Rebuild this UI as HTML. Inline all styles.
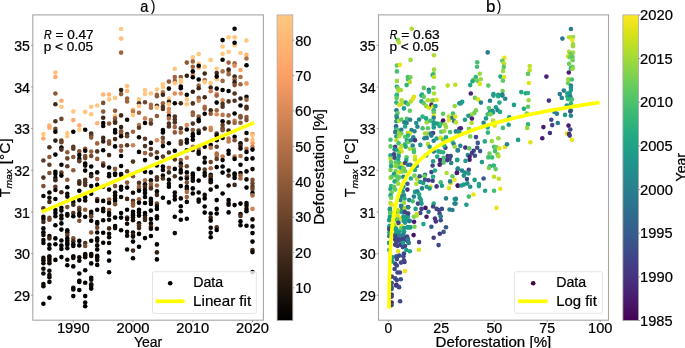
<!DOCTYPE html><html><head><meta charset="utf-8"><style>html,body{margin:0;padding:0;background:#fff;overflow:hidden}svg{display:block;will-change:transform}text{font-family:"Liberation Sans",sans-serif;fill:#000;stroke:#000;stroke-width:0.22px}</style></head><body>
<svg width="685" height="348" viewBox="0 0 685 348">
<rect width="685" height="348" fill="#fff"/>
<defs>
<clipPath id="cl"><rect x="32.8" y="14.9" width="230.6" height="305.3"/></clipPath>
<clipPath id="cr"><rect x="378.5" y="14.9" width="230.0" height="305.3"/></clipPath>
<linearGradient id="gc" x1="0" y1="0" x2="0" y2="1"><stop offset="0.000" stop-color="#ffc77f"/><stop offset="0.050" stop-color="#ffbe79"/><stop offset="0.100" stop-color="#ffb472"/><stop offset="0.150" stop-color="#ffaa6c"/><stop offset="0.200" stop-color="#fc9f65"/><stop offset="0.250" stop-color="#ed9660"/><stop offset="0.300" stop-color="#dd8c59"/><stop offset="0.350" stop-color="#cd8253"/><stop offset="0.400" stop-color="#bd784c"/><stop offset="0.450" stop-color="#ad6d46"/><stop offset="0.500" stop-color="#9e6440"/><stop offset="0.550" stop-color="#8e5a39"/><stop offset="0.600" stop-color="#7e5033"/><stop offset="0.650" stop-color="#6e462c"/><stop offset="0.700" stop-color="#5e3b26"/><stop offset="0.750" stop-color="#4f3220"/><stop offset="0.800" stop-color="#3f2819"/><stop offset="0.850" stop-color="#2f1e13"/><stop offset="0.900" stop-color="#1f140c"/><stop offset="0.950" stop-color="#0f0906"/><stop offset="1.000" stop-color="#000000"/></linearGradient>
<linearGradient id="gv" x1="0" y1="0" x2="0" y2="1"><stop offset="0.0000" stop-color="#fde725"/><stop offset="0.0312" stop-color="#ece51b"/><stop offset="0.0625" stop-color="#d8e219"/><stop offset="0.0938" stop-color="#c2df23"/><stop offset="0.1250" stop-color="#addc30"/><stop offset="0.1562" stop-color="#98d83e"/><stop offset="0.1875" stop-color="#84d44b"/><stop offset="0.2188" stop-color="#70cf57"/><stop offset="0.2500" stop-color="#5ec962"/><stop offset="0.2812" stop-color="#4ec36b"/><stop offset="0.3125" stop-color="#3fbc73"/><stop offset="0.3438" stop-color="#32b67a"/><stop offset="0.3750" stop-color="#28ae80"/><stop offset="0.4062" stop-color="#22a785"/><stop offset="0.4375" stop-color="#1fa088"/><stop offset="0.4688" stop-color="#1f988b"/><stop offset="0.5000" stop-color="#21918c"/><stop offset="0.5312" stop-color="#23898e"/><stop offset="0.5625" stop-color="#26828e"/><stop offset="0.5938" stop-color="#297a8e"/><stop offset="0.6250" stop-color="#2c728e"/><stop offset="0.6562" stop-color="#2f6b8e"/><stop offset="0.6875" stop-color="#33638d"/><stop offset="0.7188" stop-color="#375b8d"/><stop offset="0.7500" stop-color="#3b528b"/><stop offset="0.7812" stop-color="#3e4989"/><stop offset="0.8125" stop-color="#424086"/><stop offset="0.8438" stop-color="#453781"/><stop offset="0.8750" stop-color="#472d7b"/><stop offset="0.9062" stop-color="#482374"/><stop offset="0.9375" stop-color="#48186a"/><stop offset="0.9688" stop-color="#470d60"/><stop offset="1.0000" stop-color="#440154"/></linearGradient>
</defs>
<g clip-path="url(#cl)">
<circle cx="121.1" cy="29.0" r="2.3" fill="#ffc77f"/>
<circle cx="121.1" cy="38.6" r="2.3" fill="#ffbe79"/>
<circle cx="121.1" cy="52.6" r="2.3" fill="#9e6440"/>
<circle cx="234.6" cy="28.8" r="2.3" fill="#0f0906"/>
<circle cx="228.6" cy="37.2" r="2.3" fill="#ffc77f"/>
<circle cx="234.6" cy="37.4" r="2.3" fill="#ffc77f"/>
<circle cx="222.6" cy="40.1" r="2.3" fill="#000000"/>
<circle cx="246.5" cy="40.5" r="2.3" fill="#ffc77f"/>
<circle cx="234.6" cy="45.1" r="2.3" fill="#ffc77f"/>
<circle cx="234.6" cy="42.8" r="2.3" fill="#000000"/>
<circle cx="222.6" cy="46.5" r="2.3" fill="#ffc77f"/>
<circle cx="228.6" cy="51.8" r="2.3" fill="#ffc77f"/>
<circle cx="240.5" cy="53.0" r="2.3" fill="#ffc77f"/>
<circle cx="222.6" cy="53.9" r="2.3" fill="#ffc77f"/>
<circle cx="198.7" cy="54.1" r="2.3" fill="#ffc77f"/>
<circle cx="246.5" cy="54.7" r="2.3" fill="#ffb472"/>
<circle cx="55.4" cy="72.5" r="2.3" fill="#ffbe79"/>
<circle cx="55.4" cy="77.0" r="2.3" fill="#ffaa6c"/>
<circle cx="55.4" cy="93.5" r="2.3" fill="#8e5a39"/>
<circle cx="103.2" cy="94.5" r="2.3" fill="#ffb472"/>
<circle cx="109.1" cy="94.5" r="2.3" fill="#ffb472"/>
<circle cx="121.1" cy="90.0" r="2.3" fill="#2f1e13"/>
<circle cx="121.1" cy="94.1" r="2.3" fill="#8e5a39"/>
<circle cx="127.1" cy="86.0" r="2.3" fill="#ffbe79"/>
<circle cx="127.1" cy="91.0" r="2.3" fill="#ffb472"/>
<circle cx="145.0" cy="90.0" r="2.3" fill="#ffc77f"/>
<circle cx="145.0" cy="94.1" r="2.3" fill="#ffc77f"/>
<circle cx="150.9" cy="93.5" r="2.3" fill="#ffc77f"/>
<circle cx="156.9" cy="89.5" r="2.3" fill="#ffc77f"/>
<circle cx="156.9" cy="94.7" r="2.3" fill="#9e6440"/>
<circle cx="162.9" cy="84.2" r="2.3" fill="#ffc77f"/>
<circle cx="162.9" cy="87.1" r="2.3" fill="#ffc77f"/>
<circle cx="162.9" cy="92.4" r="2.3" fill="#bd784c"/>
<circle cx="162.9" cy="94.7" r="2.3" fill="#3f2819"/>
<circle cx="168.9" cy="81.6" r="2.3" fill="#8e5a39"/>
<circle cx="168.9" cy="88.6" r="2.3" fill="#0f0906"/>
<circle cx="174.8" cy="68.8" r="2.3" fill="#ffc77f"/>
<circle cx="174.8" cy="77.0" r="2.3" fill="#9e6440"/>
<circle cx="174.8" cy="80.9" r="2.3" fill="#9e6440"/>
<circle cx="174.8" cy="83.3" r="2.3" fill="#ffc77f"/>
<circle cx="174.8" cy="93.5" r="2.3" fill="#dd8c59"/>
<circle cx="180.8" cy="77.0" r="2.3" fill="#8e5a39"/>
<circle cx="180.8" cy="80.1" r="2.3" fill="#ffc77f"/>
<circle cx="180.8" cy="82.1" r="2.3" fill="#ffc77f"/>
<circle cx="180.8" cy="86.5" r="2.3" fill="#000000"/>
<circle cx="180.8" cy="88.3" r="2.3" fill="#000000"/>
<circle cx="180.8" cy="93.5" r="2.3" fill="#dd8c59"/>
<circle cx="186.8" cy="62.6" r="2.3" fill="#8e5a39"/>
<circle cx="186.8" cy="75.8" r="2.3" fill="#2f1e13"/>
<circle cx="186.8" cy="94.7" r="2.3" fill="#000000"/>
<circle cx="192.8" cy="57.2" r="2.3" fill="#ffc77f"/>
<circle cx="192.8" cy="61.4" r="2.3" fill="#9e6440"/>
<circle cx="192.8" cy="66.7" r="2.3" fill="#9e6440"/>
<circle cx="192.8" cy="74.6" r="2.3" fill="#fc9f65"/>
<circle cx="192.8" cy="71.4" r="2.3" fill="#000000"/>
<circle cx="192.8" cy="77.2" r="2.3" fill="#000000"/>
<circle cx="192.8" cy="91.8" r="2.3" fill="#2f1e13"/>
<circle cx="198.7" cy="63.5" r="2.3" fill="#ffc77f"/>
<circle cx="198.7" cy="67.5" r="2.3" fill="#fc9f65"/>
<circle cx="198.7" cy="65.7" r="2.3" fill="#000000"/>
<circle cx="198.7" cy="79.5" r="2.3" fill="#000000"/>
<circle cx="198.7" cy="85.6" r="2.3" fill="#9e6440"/>
<circle cx="198.7" cy="88.3" r="2.3" fill="#3f2819"/>
<circle cx="204.7" cy="66.7" r="2.3" fill="#ffc77f"/>
<circle cx="204.7" cy="73.5" r="2.3" fill="#3f2819"/>
<circle cx="204.7" cy="80.1" r="2.3" fill="#ad6d46"/>
<circle cx="204.7" cy="82.1" r="2.3" fill="#ffc77f"/>
<circle cx="210.7" cy="59.9" r="2.3" fill="#ffc77f"/>
<circle cx="210.7" cy="83.0" r="2.3" fill="#ffc77f"/>
<circle cx="210.7" cy="87.5" r="2.3" fill="#3f2819"/>
<circle cx="210.7" cy="91.2" r="2.3" fill="#cd8253"/>
<circle cx="216.7" cy="68.8" r="2.3" fill="#ffc77f"/>
<circle cx="216.7" cy="73.1" r="2.3" fill="#3f2819"/>
<circle cx="216.7" cy="79.3" r="2.3" fill="#ffc77f"/>
<circle cx="216.7" cy="76.6" r="2.3" fill="#070503"/>
<circle cx="216.7" cy="88.6" r="2.3" fill="#000000"/>
<circle cx="216.7" cy="94.1" r="2.3" fill="#ed9660"/>
<circle cx="222.6" cy="59.7" r="2.3" fill="#0f0906"/>
<circle cx="222.6" cy="71.4" r="2.3" fill="#ad6d46"/>
<circle cx="222.6" cy="80.9" r="2.3" fill="#9e6440"/>
<circle cx="222.6" cy="90.0" r="2.3" fill="#000000"/>
<circle cx="228.6" cy="62.6" r="2.3" fill="#9e6440"/>
<circle cx="228.6" cy="71.4" r="2.3" fill="#dd8c59"/>
<circle cx="228.6" cy="69.6" r="2.3" fill="#3f2819"/>
<circle cx="228.6" cy="74.3" r="2.3" fill="#9e6440"/>
<circle cx="228.6" cy="91.0" r="2.3" fill="#000000"/>
<circle cx="234.6" cy="63.4" r="2.3" fill="#9e6440"/>
<circle cx="234.6" cy="65.7" r="2.3" fill="#dd8c59"/>
<circle cx="234.6" cy="76.6" r="2.3" fill="#3f2819"/>
<circle cx="234.6" cy="79.5" r="2.3" fill="#8e5a39"/>
<circle cx="234.6" cy="82.4" r="2.3" fill="#2f1e13"/>
<circle cx="234.6" cy="85.1" r="2.3" fill="#7e5033"/>
<circle cx="234.6" cy="93.5" r="2.3" fill="#4f3220"/>
<circle cx="240.5" cy="70.0" r="2.3" fill="#fc9f65"/>
<circle cx="240.5" cy="77.0" r="2.3" fill="#ad6d46"/>
<circle cx="240.5" cy="84.2" r="2.3" fill="#9e6440"/>
<circle cx="246.5" cy="58.5" r="2.3" fill="#ad6d46"/>
<circle cx="246.5" cy="65.3" r="2.3" fill="#000000"/>
<circle cx="246.5" cy="83.4" r="2.3" fill="#ed9660"/>
<circle cx="43.4" cy="134.1" r="2.3" fill="#ffc77f"/>
<circle cx="49.4" cy="125.6" r="2.3" fill="#ffb472"/>
<circle cx="49.4" cy="127.7" r="2.3" fill="#ffaa6c"/>
<circle cx="55.4" cy="104.3" r="2.3" fill="#3f2819"/>
<circle cx="55.4" cy="121.3" r="2.3" fill="#4f3220"/>
<circle cx="55.4" cy="128.9" r="2.3" fill="#6e462c"/>
<circle cx="55.4" cy="131.8" r="2.3" fill="#000000"/>
<circle cx="61.4" cy="100.8" r="2.3" fill="#ffaa6c"/>
<circle cx="61.4" cy="106.7" r="2.3" fill="#ffc77f"/>
<circle cx="61.4" cy="118.9" r="2.3" fill="#6e462c"/>
<circle cx="67.3" cy="133.0" r="2.3" fill="#ffc77f"/>
<circle cx="73.3" cy="111.4" r="2.3" fill="#ffc77f"/>
<circle cx="73.3" cy="120.1" r="2.3" fill="#ffaa6c"/>
<circle cx="73.3" cy="131.8" r="2.3" fill="#000000"/>
<circle cx="79.3" cy="125.4" r="2.3" fill="#ffaa6c"/>
<circle cx="79.3" cy="129.8" r="2.3" fill="#ffc77f"/>
<circle cx="85.2" cy="111.9" r="2.3" fill="#ffc77f"/>
<circle cx="85.2" cy="129.8" r="2.3" fill="#000000"/>
<circle cx="91.2" cy="106.7" r="2.3" fill="#ffc77f"/>
<circle cx="91.2" cy="114.3" r="2.3" fill="#ffc77f"/>
<circle cx="91.2" cy="133.5" r="2.3" fill="#3f2819"/>
<circle cx="97.2" cy="105.5" r="2.3" fill="#ffc77f"/>
<circle cx="97.2" cy="123.3" r="2.3" fill="#ffb472"/>
<circle cx="103.2" cy="102.9" r="2.3" fill="#7e5033"/>
<circle cx="103.2" cy="111.6" r="2.3" fill="#8e5a39"/>
<circle cx="103.2" cy="117.8" r="2.3" fill="#3f2819"/>
<circle cx="103.2" cy="123.0" r="2.3" fill="#000000"/>
<circle cx="103.2" cy="126.0" r="2.3" fill="#0f0906"/>
<circle cx="109.1" cy="99.4" r="2.3" fill="#ffc77f"/>
<circle cx="109.1" cy="123.6" r="2.3" fill="#8e5a39"/>
<circle cx="115.1" cy="97.9" r="2.3" fill="#ffc77f"/>
<circle cx="115.1" cy="110.8" r="2.3" fill="#8e5a39"/>
<circle cx="115.1" cy="115.8" r="2.3" fill="#ffc77f"/>
<circle cx="115.1" cy="118.4" r="2.3" fill="#8e5a39"/>
<circle cx="115.1" cy="121.3" r="2.3" fill="#6e462c"/>
<circle cx="115.1" cy="122.8" r="2.3" fill="#3f2819"/>
<circle cx="115.1" cy="130.0" r="2.3" fill="#000000"/>
<circle cx="115.1" cy="132.4" r="2.3" fill="#000000"/>
<circle cx="121.1" cy="115.4" r="2.3" fill="#3f2819"/>
<circle cx="121.1" cy="127.1" r="2.3" fill="#2f1e13"/>
<circle cx="121.1" cy="131.2" r="2.3" fill="#7e5033"/>
<circle cx="121.1" cy="133.5" r="2.3" fill="#8e5a39"/>
<circle cx="127.1" cy="98.5" r="2.3" fill="#9e6440"/>
<circle cx="127.1" cy="101.4" r="2.3" fill="#9e6440"/>
<circle cx="127.1" cy="119.8" r="2.3" fill="#0f0906"/>
<circle cx="127.1" cy="134.1" r="2.3" fill="#3f2819"/>
<circle cx="133.0" cy="109.6" r="2.3" fill="#ffc77f"/>
<circle cx="133.0" cy="111.4" r="2.3" fill="#bd784c"/>
<circle cx="133.0" cy="115.1" r="2.3" fill="#ffc77f"/>
<circle cx="133.0" cy="131.8" r="2.3" fill="#9e6440"/>
<circle cx="139.0" cy="99.4" r="2.3" fill="#ffc77f"/>
<circle cx="139.0" cy="103.2" r="2.3" fill="#4f3220"/>
<circle cx="139.0" cy="106.1" r="2.3" fill="#ffc77f"/>
<circle cx="139.0" cy="112.8" r="2.3" fill="#9e6440"/>
<circle cx="139.0" cy="125.1" r="2.3" fill="#bd784c"/>
<circle cx="139.0" cy="127.7" r="2.3" fill="#5e3b26"/>
<circle cx="145.0" cy="102.2" r="2.3" fill="#6e462c"/>
<circle cx="145.0" cy="118.4" r="2.3" fill="#cd8253"/>
<circle cx="145.0" cy="123.0" r="2.3" fill="#000000"/>
<circle cx="150.9" cy="104.9" r="2.3" fill="#ad6d46"/>
<circle cx="150.9" cy="107.8" r="2.3" fill="#ad6d46"/>
<circle cx="150.9" cy="120.1" r="2.3" fill="#9e6440"/>
<circle cx="150.9" cy="123.6" r="2.3" fill="#5e3b26"/>
<circle cx="156.9" cy="96.2" r="2.3" fill="#8e5a39"/>
<circle cx="156.9" cy="105.7" r="2.3" fill="#3f2819"/>
<circle cx="156.9" cy="107.6" r="2.3" fill="#ffc77f"/>
<circle cx="156.9" cy="116.0" r="2.3" fill="#8e5a39"/>
<circle cx="162.9" cy="103.2" r="2.3" fill="#9e6440"/>
<circle cx="162.9" cy="106.7" r="2.3" fill="#4f3220"/>
<circle cx="162.9" cy="109.0" r="2.3" fill="#4f3220"/>
<circle cx="162.9" cy="130.0" r="2.3" fill="#000000"/>
<circle cx="162.9" cy="132.4" r="2.3" fill="#000000"/>
<circle cx="168.9" cy="98.5" r="2.3" fill="#ffc77f"/>
<circle cx="168.9" cy="101.8" r="2.3" fill="#2f1e13"/>
<circle cx="168.9" cy="104.3" r="2.3" fill="#ffc77f"/>
<circle cx="168.9" cy="109.0" r="2.3" fill="#dd8c59"/>
<circle cx="168.9" cy="112.5" r="2.3" fill="#dd8c59"/>
<circle cx="168.9" cy="116.0" r="2.3" fill="#0f0906"/>
<circle cx="168.9" cy="118.4" r="2.3" fill="#ad6d46"/>
<circle cx="168.9" cy="123.6" r="2.3" fill="#4f3220"/>
<circle cx="168.9" cy="126.5" r="2.3" fill="#4f3220"/>
<circle cx="174.8" cy="103.2" r="2.3" fill="#000000"/>
<circle cx="174.8" cy="116.6" r="2.3" fill="#4f3220"/>
<circle cx="174.8" cy="119.5" r="2.3" fill="#4f3220"/>
<circle cx="174.8" cy="122.4" r="2.3" fill="#4f3220"/>
<circle cx="174.8" cy="127.1" r="2.3" fill="#9e6440"/>
<circle cx="174.8" cy="132.4" r="2.3" fill="#8e5a39"/>
<circle cx="180.8" cy="103.2" r="2.3" fill="#3f2819"/>
<circle cx="180.8" cy="128.3" r="2.3" fill="#4f3220"/>
<circle cx="180.8" cy="132.4" r="2.3" fill="#9e6440"/>
<circle cx="186.8" cy="99.4" r="2.3" fill="#ffc77f"/>
<circle cx="186.8" cy="104.3" r="2.3" fill="#ffc77f"/>
<circle cx="186.8" cy="125.1" r="2.3" fill="#dd8c59"/>
<circle cx="186.8" cy="129.5" r="2.3" fill="#000000"/>
<circle cx="192.8" cy="103.4" r="2.3" fill="#4f3220"/>
<circle cx="192.8" cy="112.5" r="2.3" fill="#8e5a39"/>
<circle cx="192.8" cy="114.9" r="2.3" fill="#9e6440"/>
<circle cx="192.8" cy="123.6" r="2.3" fill="#4f3220"/>
<circle cx="192.8" cy="130.0" r="2.3" fill="#8e5a39"/>
<circle cx="192.8" cy="134.1" r="2.3" fill="#0f0906"/>
<circle cx="198.7" cy="97.9" r="2.3" fill="#8e5a39"/>
<circle cx="198.7" cy="100.8" r="2.3" fill="#cd8253"/>
<circle cx="198.7" cy="116.6" r="2.3" fill="#8e5a39"/>
<circle cx="198.7" cy="121.3" r="2.3" fill="#0f0906"/>
<circle cx="198.7" cy="119.5" r="2.3" fill="#000000"/>
<circle cx="198.7" cy="130.6" r="2.3" fill="#4f3220"/>
<circle cx="198.7" cy="133.0" r="2.3" fill="#000000"/>
<circle cx="204.7" cy="97.3" r="2.3" fill="#3f2819"/>
<circle cx="204.7" cy="106.7" r="2.3" fill="#ad6d46"/>
<circle cx="204.7" cy="108.8" r="2.3" fill="#9e6440"/>
<circle cx="204.7" cy="113.7" r="2.3" fill="#000000"/>
<circle cx="204.7" cy="128.6" r="2.3" fill="#3f2819"/>
<circle cx="210.7" cy="110.2" r="2.3" fill="#3f2819"/>
<circle cx="210.7" cy="113.7" r="2.3" fill="#8e5a39"/>
<circle cx="210.7" cy="127.7" r="2.3" fill="#dd8c59"/>
<circle cx="210.7" cy="130.0" r="2.3" fill="#cd8253"/>
<circle cx="216.7" cy="95.6" r="2.3" fill="#9e6440"/>
<circle cx="216.7" cy="102.6" r="2.3" fill="#000000"/>
<circle cx="216.7" cy="110.2" r="2.3" fill="#9e6440"/>
<circle cx="216.7" cy="114.3" r="2.3" fill="#dd8c59"/>
<circle cx="216.7" cy="133.5" r="2.3" fill="#4f3220"/>
<circle cx="222.6" cy="100.3" r="2.3" fill="#dd8c59"/>
<circle cx="222.6" cy="103.8" r="2.3" fill="#4f3220"/>
<circle cx="222.6" cy="106.7" r="2.3" fill="#4f3220"/>
<circle cx="222.6" cy="114.9" r="2.3" fill="#bd784c"/>
<circle cx="222.6" cy="121.3" r="2.3" fill="#000000"/>
<circle cx="222.6" cy="125.1" r="2.3" fill="#5e3b26"/>
<circle cx="222.6" cy="128.3" r="2.3" fill="#6e462c"/>
<circle cx="222.6" cy="130.3" r="2.3" fill="#7e5033"/>
<circle cx="228.6" cy="101.4" r="2.3" fill="#4f3220"/>
<circle cx="228.6" cy="115.4" r="2.3" fill="#9e6440"/>
<circle cx="228.6" cy="122.4" r="2.3" fill="#3f2819"/>
<circle cx="228.6" cy="130.6" r="2.3" fill="#3f2819"/>
<circle cx="234.6" cy="100.8" r="2.3" fill="#4f3220"/>
<circle cx="234.6" cy="113.5" r="2.3" fill="#000000"/>
<circle cx="234.6" cy="120.7" r="2.3" fill="#bd784c"/>
<circle cx="234.6" cy="123.0" r="2.3" fill="#9e6440"/>
<circle cx="240.5" cy="98.5" r="2.3" fill="#2f1e13"/>
<circle cx="240.5" cy="105.5" r="2.3" fill="#000000"/>
<circle cx="240.5" cy="116.0" r="2.3" fill="#8e5a39"/>
<circle cx="240.5" cy="117.4" r="2.3" fill="#7e5033"/>
<circle cx="240.5" cy="122.8" r="2.3" fill="#8e5a39"/>
<circle cx="246.5" cy="96.8" r="2.3" fill="#0f0906"/>
<circle cx="246.5" cy="99.7" r="2.3" fill="#9e6440"/>
<circle cx="246.5" cy="106.7" r="2.3" fill="#4f3220"/>
<circle cx="246.5" cy="108.4" r="2.3" fill="#4f3220"/>
<circle cx="246.5" cy="117.0" r="2.3" fill="#8e5a39"/>
<circle cx="246.5" cy="120.1" r="2.3" fill="#7e5033"/>
<circle cx="246.5" cy="133.0" r="2.3" fill="#0f0906"/>
<circle cx="252.5" cy="134.1" r="2.3" fill="#ed9660"/>
<circle cx="43.4" cy="138.5" r="2.3" fill="#ffaa6c"/>
<circle cx="43.4" cy="160.5" r="2.3" fill="#5e3b26"/>
<circle cx="49.4" cy="147.3" r="2.3" fill="#4f3220"/>
<circle cx="49.4" cy="157.0" r="2.3" fill="#8e5a39"/>
<circle cx="49.4" cy="164.8" r="2.3" fill="#5e3b26"/>
<circle cx="49.4" cy="173.0" r="2.3" fill="#7e5033"/>
<circle cx="55.4" cy="140.6" r="2.3" fill="#2f1e13"/>
<circle cx="55.4" cy="154.6" r="2.3" fill="#000000"/>
<circle cx="55.4" cy="171.8" r="2.3" fill="#000000"/>
<circle cx="55.4" cy="174.1" r="2.3" fill="#000000"/>
<circle cx="61.4" cy="140.6" r="2.3" fill="#5e3b26"/>
<circle cx="61.4" cy="142.2" r="2.3" fill="#6e462c"/>
<circle cx="61.4" cy="147.6" r="2.3" fill="#000000"/>
<circle cx="61.4" cy="149.6" r="2.3" fill="#4f3220"/>
<circle cx="61.4" cy="164.8" r="2.3" fill="#000000"/>
<circle cx="61.4" cy="172.6" r="2.3" fill="#5e3b26"/>
<circle cx="67.3" cy="136.2" r="2.3" fill="#ffc77f"/>
<circle cx="67.3" cy="152.3" r="2.3" fill="#8e5a39"/>
<circle cx="67.3" cy="158.4" r="2.3" fill="#6e462c"/>
<circle cx="67.3" cy="166.3" r="2.3" fill="#5e3b26"/>
<circle cx="73.3" cy="146.7" r="2.3" fill="#5e3b26"/>
<circle cx="73.3" cy="148.8" r="2.3" fill="#5e3b26"/>
<circle cx="73.3" cy="157.0" r="2.3" fill="#8e5a39"/>
<circle cx="73.3" cy="170.3" r="2.3" fill="#8e5a39"/>
<circle cx="79.3" cy="151.4" r="2.3" fill="#7e5033"/>
<circle cx="79.3" cy="155.1" r="2.3" fill="#000000"/>
<circle cx="79.3" cy="158.9" r="2.3" fill="#0f0906"/>
<circle cx="79.3" cy="161.3" r="2.3" fill="#5e3b26"/>
<circle cx="85.2" cy="148.8" r="2.3" fill="#8e5a39"/>
<circle cx="85.2" cy="150.8" r="2.3" fill="#000000"/>
<circle cx="85.2" cy="156.0" r="2.3" fill="#7e5033"/>
<circle cx="85.2" cy="158.1" r="2.3" fill="#6e462c"/>
<circle cx="85.2" cy="163.6" r="2.3" fill="#000000"/>
<circle cx="85.2" cy="165.6" r="2.3" fill="#0f0906"/>
<circle cx="85.2" cy="170.6" r="2.3" fill="#000000"/>
<circle cx="91.2" cy="135.6" r="2.3" fill="#5e3b26"/>
<circle cx="91.2" cy="137.6" r="2.3" fill="#8e5a39"/>
<circle cx="91.2" cy="151.6" r="2.3" fill="#9e6440"/>
<circle cx="91.2" cy="156.0" r="2.3" fill="#6e462c"/>
<circle cx="91.2" cy="166.5" r="2.3" fill="#000000"/>
<circle cx="91.2" cy="174.1" r="2.3" fill="#000000"/>
<circle cx="97.2" cy="143.4" r="2.3" fill="#9e6440"/>
<circle cx="97.2" cy="151.4" r="2.3" fill="#4f3220"/>
<circle cx="97.2" cy="158.9" r="2.3" fill="#8e5a39"/>
<circle cx="97.2" cy="172.4" r="2.3" fill="#000000"/>
<circle cx="103.2" cy="137.9" r="2.3" fill="#3f2819"/>
<circle cx="103.2" cy="141.4" r="2.3" fill="#2f1e13"/>
<circle cx="103.2" cy="150.2" r="2.3" fill="#000000"/>
<circle cx="103.2" cy="163.3" r="2.3" fill="#8e5a39"/>
<circle cx="103.2" cy="165.6" r="2.3" fill="#2f1e13"/>
<circle cx="109.1" cy="141.4" r="2.3" fill="#8e5a39"/>
<circle cx="109.1" cy="143.8" r="2.3" fill="#7e5033"/>
<circle cx="109.1" cy="155.1" r="2.3" fill="#3f2819"/>
<circle cx="109.1" cy="167.5" r="2.3" fill="#000000"/>
<circle cx="109.1" cy="174.1" r="2.3" fill="#0f0906"/>
<circle cx="115.1" cy="139.1" r="2.3" fill="#3f2819"/>
<circle cx="115.1" cy="146.4" r="2.3" fill="#000000"/>
<circle cx="115.1" cy="168.9" r="2.3" fill="#8e5a39"/>
<circle cx="115.1" cy="173.5" r="2.3" fill="#000000"/>
<circle cx="121.1" cy="136.2" r="2.3" fill="#0f0906"/>
<circle cx="121.1" cy="146.1" r="2.3" fill="#8e5a39"/>
<circle cx="121.1" cy="150.8" r="2.3" fill="#8e5a39"/>
<circle cx="121.1" cy="156.0" r="2.3" fill="#000000"/>
<circle cx="121.1" cy="166.0" r="2.3" fill="#000000"/>
<circle cx="121.1" cy="174.1" r="2.3" fill="#000000"/>
<circle cx="127.1" cy="136.2" r="2.3" fill="#6e462c"/>
<circle cx="127.1" cy="145.3" r="2.3" fill="#4f3220"/>
<circle cx="127.1" cy="171.2" r="2.3" fill="#5e3b26"/>
<circle cx="133.0" cy="145.3" r="2.3" fill="#cd8253"/>
<circle cx="133.0" cy="161.6" r="2.3" fill="#4f3220"/>
<circle cx="139.0" cy="137.3" r="2.3" fill="#0f0906"/>
<circle cx="139.0" cy="151.9" r="2.3" fill="#000000"/>
<circle cx="145.0" cy="138.7" r="2.3" fill="#5e3b26"/>
<circle cx="145.0" cy="146.1" r="2.3" fill="#4f3220"/>
<circle cx="145.0" cy="153.1" r="2.3" fill="#9e6440"/>
<circle cx="145.0" cy="160.1" r="2.3" fill="#000000"/>
<circle cx="145.0" cy="171.8" r="2.3" fill="#000000"/>
<circle cx="150.9" cy="142.9" r="2.3" fill="#0f0906"/>
<circle cx="150.9" cy="149.0" r="2.3" fill="#4f3220"/>
<circle cx="150.9" cy="154.6" r="2.3" fill="#6e462c"/>
<circle cx="150.9" cy="172.4" r="2.3" fill="#000000"/>
<circle cx="156.9" cy="140.3" r="2.3" fill="#dd8c59"/>
<circle cx="156.9" cy="152.3" r="2.3" fill="#6e462c"/>
<circle cx="156.9" cy="157.8" r="2.3" fill="#0f0906"/>
<circle cx="156.9" cy="165.4" r="2.3" fill="#0f0906"/>
<circle cx="162.9" cy="137.9" r="2.3" fill="#6e462c"/>
<circle cx="162.9" cy="142.0" r="2.3" fill="#9e6440"/>
<circle cx="162.9" cy="146.1" r="2.3" fill="#0f0906"/>
<circle cx="162.9" cy="156.6" r="2.3" fill="#5e3b26"/>
<circle cx="162.9" cy="166.5" r="2.3" fill="#000000"/>
<circle cx="162.9" cy="170.0" r="2.3" fill="#000000"/>
<circle cx="168.9" cy="143.2" r="2.3" fill="#000000"/>
<circle cx="168.9" cy="152.5" r="2.3" fill="#4f3220"/>
<circle cx="168.9" cy="167.7" r="2.3" fill="#9e6440"/>
<circle cx="168.9" cy="172.4" r="2.3" fill="#3f2819"/>
<circle cx="174.8" cy="150.8" r="2.3" fill="#000000"/>
<circle cx="174.8" cy="159.5" r="2.3" fill="#4f3220"/>
<circle cx="174.8" cy="168.9" r="2.3" fill="#000000"/>
<circle cx="180.8" cy="141.4" r="2.3" fill="#6e462c"/>
<circle cx="180.8" cy="143.8" r="2.3" fill="#5e3b26"/>
<circle cx="180.8" cy="160.1" r="2.3" fill="#8e5a39"/>
<circle cx="180.8" cy="163.6" r="2.3" fill="#000000"/>
<circle cx="180.8" cy="166.3" r="2.3" fill="#5e3b26"/>
<circle cx="180.8" cy="170.0" r="2.3" fill="#000000"/>
<circle cx="180.8" cy="172.4" r="2.3" fill="#0f0906"/>
<circle cx="186.8" cy="139.7" r="2.3" fill="#0f0906"/>
<circle cx="186.8" cy="142.6" r="2.3" fill="#0f0906"/>
<circle cx="186.8" cy="150.2" r="2.3" fill="#0f0906"/>
<circle cx="186.8" cy="157.8" r="2.3" fill="#cd8253"/>
<circle cx="186.8" cy="166.3" r="2.3" fill="#6e462c"/>
<circle cx="186.8" cy="172.4" r="2.3" fill="#000000"/>
<circle cx="192.8" cy="136.2" r="2.3" fill="#000000"/>
<circle cx="192.8" cy="139.7" r="2.3" fill="#000000"/>
<circle cx="192.8" cy="146.7" r="2.3" fill="#bd784c"/>
<circle cx="192.8" cy="150.0" r="2.3" fill="#3f2819"/>
<circle cx="192.8" cy="173.5" r="2.3" fill="#000000"/>
<circle cx="198.7" cy="149.0" r="2.3" fill="#ad6d46"/>
<circle cx="198.7" cy="151.9" r="2.3" fill="#0f0906"/>
<circle cx="198.7" cy="153.7" r="2.3" fill="#0f0906"/>
<circle cx="198.7" cy="168.9" r="2.3" fill="#0f0906"/>
<circle cx="204.7" cy="146.7" r="2.3" fill="#000000"/>
<circle cx="204.7" cy="157.8" r="2.3" fill="#0f0906"/>
<circle cx="204.7" cy="162.4" r="2.3" fill="#000000"/>
<circle cx="204.7" cy="169.5" r="2.3" fill="#5e3b26"/>
<circle cx="204.7" cy="173.0" r="2.3" fill="#0f0906"/>
<circle cx="210.7" cy="144.9" r="2.3" fill="#000000"/>
<circle cx="210.7" cy="147.8" r="2.3" fill="#bd784c"/>
<circle cx="210.7" cy="162.1" r="2.3" fill="#6e462c"/>
<circle cx="210.7" cy="168.3" r="2.3" fill="#ad6d46"/>
<circle cx="210.7" cy="174.7" r="2.3" fill="#0f0906"/>
<circle cx="216.7" cy="135.6" r="2.3" fill="#0f0906"/>
<circle cx="216.7" cy="140.3" r="2.3" fill="#000000"/>
<circle cx="216.7" cy="146.7" r="2.3" fill="#5e3b26"/>
<circle cx="216.7" cy="153.5" r="2.3" fill="#ad6d46"/>
<circle cx="216.7" cy="155.4" r="2.3" fill="#ad6d46"/>
<circle cx="216.7" cy="158.9" r="2.3" fill="#5e3b26"/>
<circle cx="216.7" cy="167.1" r="2.3" fill="#000000"/>
<circle cx="222.6" cy="137.9" r="2.3" fill="#0f0906"/>
<circle cx="222.6" cy="156.6" r="2.3" fill="#bd784c"/>
<circle cx="222.6" cy="160.1" r="2.3" fill="#0f0906"/>
<circle cx="222.6" cy="166.5" r="2.3" fill="#000000"/>
<circle cx="222.6" cy="172.6" r="2.3" fill="#000000"/>
<circle cx="228.6" cy="138.5" r="2.3" fill="#bd784c"/>
<circle cx="228.6" cy="141.4" r="2.3" fill="#bd784c"/>
<circle cx="228.6" cy="150.8" r="2.3" fill="#000000"/>
<circle cx="228.6" cy="153.7" r="2.3" fill="#000000"/>
<circle cx="228.6" cy="170.6" r="2.3" fill="#000000"/>
<circle cx="234.6" cy="136.8" r="2.3" fill="#000000"/>
<circle cx="234.6" cy="140.3" r="2.3" fill="#7e5033"/>
<circle cx="234.6" cy="156.6" r="2.3" fill="#bd784c"/>
<circle cx="234.6" cy="158.9" r="2.3" fill="#000000"/>
<circle cx="234.6" cy="173.5" r="2.3" fill="#000000"/>
<circle cx="240.5" cy="143.2" r="2.3" fill="#0f0906"/>
<circle cx="240.5" cy="145.5" r="2.3" fill="#3f2819"/>
<circle cx="240.5" cy="148.4" r="2.3" fill="#0f0906"/>
<circle cx="240.5" cy="156.0" r="2.3" fill="#ad6d46"/>
<circle cx="240.5" cy="164.8" r="2.3" fill="#000000"/>
<circle cx="240.5" cy="173.0" r="2.3" fill="#000000"/>
<circle cx="246.5" cy="139.7" r="2.3" fill="#6e462c"/>
<circle cx="246.5" cy="148.8" r="2.3" fill="#bd784c"/>
<circle cx="246.5" cy="151.9" r="2.3" fill="#000000"/>
<circle cx="246.5" cy="158.9" r="2.3" fill="#000000"/>
<circle cx="246.5" cy="171.4" r="2.3" fill="#000000"/>
<circle cx="252.5" cy="135.6" r="2.3" fill="#ffc77f"/>
<circle cx="252.5" cy="139.9" r="2.3" fill="#ffbe79"/>
<circle cx="252.5" cy="143.2" r="2.3" fill="#fc9f65"/>
<circle cx="252.5" cy="146.7" r="2.3" fill="#cd8253"/>
<circle cx="252.5" cy="149.6" r="2.3" fill="#000000"/>
<circle cx="252.5" cy="158.4" r="2.3" fill="#0f0906"/>
<circle cx="252.5" cy="169.1" r="2.3" fill="#0f0906"/>
<circle cx="43.4" cy="177.6" r="2.3" fill="#4f3220"/>
<circle cx="43.4" cy="186.1" r="2.3" fill="#7e5033"/>
<circle cx="43.4" cy="196.0" r="2.3" fill="#0f0906"/>
<circle cx="43.4" cy="208.3" r="2.3" fill="#4f3220"/>
<circle cx="49.4" cy="192.5" r="2.3" fill="#000000"/>
<circle cx="49.4" cy="197.8" r="2.3" fill="#0f0906"/>
<circle cx="49.4" cy="201.9" r="2.3" fill="#3f2819"/>
<circle cx="55.4" cy="177.9" r="2.3" fill="#0f0906"/>
<circle cx="55.4" cy="180.3" r="2.3" fill="#3f2819"/>
<circle cx="55.4" cy="186.7" r="2.3" fill="#5e3b26"/>
<circle cx="55.4" cy="190.0" r="2.3" fill="#0f0906"/>
<circle cx="55.4" cy="199.0" r="2.3" fill="#000000"/>
<circle cx="55.4" cy="210.0" r="2.3" fill="#000000"/>
<circle cx="55.4" cy="213.0" r="2.3" fill="#000000"/>
<circle cx="61.4" cy="175.6" r="2.3" fill="#000000"/>
<circle cx="61.4" cy="192.3" r="2.3" fill="#3f2819"/>
<circle cx="61.4" cy="207.7" r="2.3" fill="#000000"/>
<circle cx="61.4" cy="210.6" r="2.3" fill="#0f0906"/>
<circle cx="67.3" cy="179.7" r="2.3" fill="#8e5a39"/>
<circle cx="67.3" cy="187.3" r="2.3" fill="#000000"/>
<circle cx="67.3" cy="193.7" r="2.3" fill="#0f0906"/>
<circle cx="67.3" cy="196.6" r="2.3" fill="#0f0906"/>
<circle cx="67.3" cy="207.1" r="2.3" fill="#7e5033"/>
<circle cx="67.3" cy="214.1" r="2.3" fill="#0f0906"/>
<circle cx="73.3" cy="201.9" r="2.3" fill="#0f0906"/>
<circle cx="73.3" cy="204.8" r="2.3" fill="#3f2819"/>
<circle cx="73.3" cy="213.0" r="2.3" fill="#4f3220"/>
<circle cx="79.3" cy="181.4" r="2.3" fill="#4f3220"/>
<circle cx="79.3" cy="183.8" r="2.3" fill="#3f2819"/>
<circle cx="79.3" cy="190.8" r="2.3" fill="#000000"/>
<circle cx="79.3" cy="200.1" r="2.3" fill="#000000"/>
<circle cx="79.3" cy="207.7" r="2.3" fill="#6e462c"/>
<circle cx="79.3" cy="210.0" r="2.3" fill="#4f3220"/>
<circle cx="79.3" cy="213.5" r="2.3" fill="#000000"/>
<circle cx="85.2" cy="179.7" r="2.3" fill="#4f3220"/>
<circle cx="85.2" cy="182.2" r="2.3" fill="#4f3220"/>
<circle cx="85.2" cy="184.9" r="2.3" fill="#4f3220"/>
<circle cx="85.2" cy="197.2" r="2.3" fill="#000000"/>
<circle cx="85.2" cy="200.5" r="2.3" fill="#0f0906"/>
<circle cx="85.2" cy="209.8" r="2.3" fill="#8e5a39"/>
<circle cx="91.2" cy="176.2" r="2.3" fill="#3f2819"/>
<circle cx="91.2" cy="186.1" r="2.3" fill="#000000"/>
<circle cx="91.2" cy="193.7" r="2.3" fill="#000000"/>
<circle cx="91.2" cy="211.8" r="2.3" fill="#0f0906"/>
<circle cx="91.2" cy="214.1" r="2.3" fill="#0f0906"/>
<circle cx="97.2" cy="179.1" r="2.3" fill="#9e6440"/>
<circle cx="97.2" cy="184.9" r="2.3" fill="#000000"/>
<circle cx="97.2" cy="199.0" r="2.3" fill="#6e462c"/>
<circle cx="97.2" cy="200.9" r="2.3" fill="#0f0906"/>
<circle cx="97.2" cy="209.8" r="2.3" fill="#000000"/>
<circle cx="103.2" cy="186.7" r="2.3" fill="#5e3b26"/>
<circle cx="103.2" cy="200.9" r="2.3" fill="#000000"/>
<circle cx="103.2" cy="208.9" r="2.3" fill="#0f0906"/>
<circle cx="103.2" cy="211.2" r="2.3" fill="#0f0906"/>
<circle cx="109.1" cy="176.2" r="2.3" fill="#0f0906"/>
<circle cx="109.1" cy="189.6" r="2.3" fill="#000000"/>
<circle cx="109.1" cy="199.5" r="2.3" fill="#8e5a39"/>
<circle cx="109.1" cy="203.0" r="2.3" fill="#0f0906"/>
<circle cx="109.1" cy="210.0" r="2.3" fill="#8e5a39"/>
<circle cx="109.1" cy="213.0" r="2.3" fill="#000000"/>
<circle cx="115.1" cy="175.0" r="2.3" fill="#0f0906"/>
<circle cx="115.1" cy="186.1" r="2.3" fill="#7e5033"/>
<circle cx="115.1" cy="192.5" r="2.3" fill="#0f0906"/>
<circle cx="115.1" cy="195.4" r="2.3" fill="#0f0906"/>
<circle cx="115.1" cy="198.4" r="2.3" fill="#0f0906"/>
<circle cx="115.1" cy="200.9" r="2.3" fill="#000000"/>
<circle cx="115.1" cy="204.2" r="2.3" fill="#7e5033"/>
<circle cx="121.1" cy="175.0" r="2.3" fill="#0f0906"/>
<circle cx="121.1" cy="186.7" r="2.3" fill="#000000"/>
<circle cx="121.1" cy="189.6" r="2.3" fill="#000000"/>
<circle cx="121.1" cy="197.0" r="2.3" fill="#0f0906"/>
<circle cx="121.1" cy="213.0" r="2.3" fill="#000000"/>
<circle cx="127.1" cy="182.6" r="2.3" fill="#8e5a39"/>
<circle cx="127.1" cy="187.6" r="2.3" fill="#000000"/>
<circle cx="127.1" cy="198.9" r="2.3" fill="#3f2819"/>
<circle cx="127.1" cy="209.8" r="2.3" fill="#000000"/>
<circle cx="133.0" cy="176.2" r="2.3" fill="#7e5033"/>
<circle cx="133.0" cy="192.8" r="2.3" fill="#0f0906"/>
<circle cx="133.0" cy="200.7" r="2.3" fill="#4f3220"/>
<circle cx="133.0" cy="203.3" r="2.3" fill="#8e5a39"/>
<circle cx="133.0" cy="205.6" r="2.3" fill="#8e5a39"/>
<circle cx="133.0" cy="211.8" r="2.3" fill="#000000"/>
<circle cx="133.0" cy="214.1" r="2.3" fill="#000000"/>
<circle cx="139.0" cy="182.9" r="2.3" fill="#4f3220"/>
<circle cx="139.0" cy="186.7" r="2.3" fill="#9e6440"/>
<circle cx="139.0" cy="188.4" r="2.3" fill="#9e6440"/>
<circle cx="139.0" cy="190.8" r="2.3" fill="#000000"/>
<circle cx="139.0" cy="199.3" r="2.3" fill="#9e6440"/>
<circle cx="139.0" cy="202.8" r="2.3" fill="#000000"/>
<circle cx="139.0" cy="209.8" r="2.3" fill="#000000"/>
<circle cx="139.0" cy="212.4" r="2.3" fill="#000000"/>
<circle cx="145.0" cy="180.3" r="2.3" fill="#ad6d46"/>
<circle cx="145.0" cy="184.3" r="2.3" fill="#0f0906"/>
<circle cx="145.0" cy="186.7" r="2.3" fill="#3f2819"/>
<circle cx="145.0" cy="190.0" r="2.3" fill="#000000"/>
<circle cx="145.0" cy="193.1" r="2.3" fill="#000000"/>
<circle cx="145.0" cy="197.0" r="2.3" fill="#000000"/>
<circle cx="145.0" cy="203.0" r="2.3" fill="#000000"/>
<circle cx="145.0" cy="213.0" r="2.3" fill="#000000"/>
<circle cx="150.9" cy="180.3" r="2.3" fill="#0f0906"/>
<circle cx="150.9" cy="183.8" r="2.3" fill="#9e6440"/>
<circle cx="150.9" cy="186.1" r="2.3" fill="#8e5a39"/>
<circle cx="150.9" cy="188.4" r="2.3" fill="#4f3220"/>
<circle cx="150.9" cy="198.9" r="2.3" fill="#000000"/>
<circle cx="150.9" cy="201.3" r="2.3" fill="#0f0906"/>
<circle cx="150.9" cy="204.0" r="2.3" fill="#000000"/>
<circle cx="150.9" cy="210.6" r="2.3" fill="#000000"/>
<circle cx="156.9" cy="177.3" r="2.3" fill="#4f3220"/>
<circle cx="156.9" cy="179.7" r="2.3" fill="#4f3220"/>
<circle cx="156.9" cy="185.5" r="2.3" fill="#9e6440"/>
<circle cx="156.9" cy="191.4" r="2.3" fill="#000000"/>
<circle cx="156.9" cy="194.9" r="2.3" fill="#3f2819"/>
<circle cx="156.9" cy="203.6" r="2.3" fill="#6e462c"/>
<circle cx="156.9" cy="206.0" r="2.3" fill="#0f0906"/>
<circle cx="156.9" cy="208.9" r="2.3" fill="#000000"/>
<circle cx="162.9" cy="175.6" r="2.3" fill="#0f0906"/>
<circle cx="162.9" cy="178.5" r="2.3" fill="#4f3220"/>
<circle cx="162.9" cy="197.8" r="2.3" fill="#000000"/>
<circle cx="168.9" cy="179.7" r="2.3" fill="#000000"/>
<circle cx="168.9" cy="183.8" r="2.3" fill="#0f0906"/>
<circle cx="168.9" cy="186.7" r="2.3" fill="#000000"/>
<circle cx="168.9" cy="202.4" r="2.3" fill="#000000"/>
<circle cx="174.8" cy="176.2" r="2.3" fill="#4f3220"/>
<circle cx="174.8" cy="192.5" r="2.3" fill="#0f0906"/>
<circle cx="174.8" cy="196.0" r="2.3" fill="#0f0906"/>
<circle cx="174.8" cy="199.5" r="2.3" fill="#000000"/>
<circle cx="180.8" cy="178.5" r="2.3" fill="#000000"/>
<circle cx="180.8" cy="186.1" r="2.3" fill="#000000"/>
<circle cx="180.8" cy="198.4" r="2.3" fill="#0f0906"/>
<circle cx="180.8" cy="206.3" r="2.3" fill="#000000"/>
<circle cx="180.8" cy="211.2" r="2.3" fill="#000000"/>
<circle cx="186.8" cy="176.2" r="2.3" fill="#7e5033"/>
<circle cx="186.8" cy="178.5" r="2.3" fill="#0f0906"/>
<circle cx="186.8" cy="182.6" r="2.3" fill="#7e5033"/>
<circle cx="186.8" cy="186.7" r="2.3" fill="#000000"/>
<circle cx="186.8" cy="189.0" r="2.3" fill="#0f0906"/>
<circle cx="186.8" cy="191.9" r="2.3" fill="#ad6d46"/>
<circle cx="186.8" cy="197.0" r="2.3" fill="#9e6440"/>
<circle cx="186.8" cy="201.9" r="2.3" fill="#0f0906"/>
<circle cx="192.8" cy="175.6" r="2.3" fill="#000000"/>
<circle cx="192.8" cy="177.9" r="2.3" fill="#0f0906"/>
<circle cx="192.8" cy="180.8" r="2.3" fill="#0f0906"/>
<circle cx="192.8" cy="188.4" r="2.3" fill="#000000"/>
<circle cx="192.8" cy="193.5" r="2.3" fill="#000000"/>
<circle cx="198.7" cy="180.6" r="2.3" fill="#000000"/>
<circle cx="198.7" cy="192.5" r="2.3" fill="#0f0906"/>
<circle cx="198.7" cy="199.5" r="2.3" fill="#000000"/>
<circle cx="198.7" cy="201.6" r="2.3" fill="#0f0906"/>
<circle cx="204.7" cy="175.6" r="2.3" fill="#0f0906"/>
<circle cx="204.7" cy="194.9" r="2.3" fill="#0f0906"/>
<circle cx="204.7" cy="198.4" r="2.3" fill="#000000"/>
<circle cx="204.7" cy="206.5" r="2.3" fill="#000000"/>
<circle cx="204.7" cy="212.6" r="2.3" fill="#000000"/>
<circle cx="210.7" cy="176.2" r="2.3" fill="#4f3220"/>
<circle cx="210.7" cy="178.5" r="2.3" fill="#3f2819"/>
<circle cx="210.7" cy="180.3" r="2.3" fill="#000000"/>
<circle cx="210.7" cy="182.2" r="2.3" fill="#0f0906"/>
<circle cx="210.7" cy="189.6" r="2.3" fill="#0f0906"/>
<circle cx="210.7" cy="213.5" r="2.3" fill="#000000"/>
<circle cx="216.7" cy="186.7" r="2.3" fill="#0f0906"/>
<circle cx="216.7" cy="200.1" r="2.3" fill="#000000"/>
<circle cx="216.7" cy="208.9" r="2.3" fill="#000000"/>
<circle cx="216.7" cy="213.5" r="2.3" fill="#000000"/>
<circle cx="222.6" cy="193.5" r="2.3" fill="#000000"/>
<circle cx="228.6" cy="175.6" r="2.3" fill="#3f2819"/>
<circle cx="228.6" cy="185.5" r="2.3" fill="#0f0906"/>
<circle cx="228.6" cy="200.1" r="2.3" fill="#000000"/>
<circle cx="228.6" cy="203.0" r="2.3" fill="#0f0906"/>
<circle cx="228.6" cy="204.8" r="2.3" fill="#0f0906"/>
<circle cx="228.6" cy="212.4" r="2.3" fill="#000000"/>
<circle cx="234.6" cy="175.0" r="2.3" fill="#0f0906"/>
<circle cx="234.6" cy="177.9" r="2.3" fill="#000000"/>
<circle cx="234.6" cy="184.9" r="2.3" fill="#3f2819"/>
<circle cx="234.6" cy="205.1" r="2.3" fill="#000000"/>
<circle cx="240.5" cy="175.6" r="2.3" fill="#9e6440"/>
<circle cx="240.5" cy="178.5" r="2.3" fill="#ad6d46"/>
<circle cx="240.5" cy="203.6" r="2.3" fill="#000000"/>
<circle cx="240.5" cy="214.1" r="2.3" fill="#0f0906"/>
<circle cx="246.5" cy="179.4" r="2.3" fill="#0f0906"/>
<circle cx="246.5" cy="187.6" r="2.3" fill="#000000"/>
<circle cx="246.5" cy="203.0" r="2.3" fill="#0f0906"/>
<circle cx="246.5" cy="205.4" r="2.3" fill="#0f0906"/>
<circle cx="246.5" cy="208.9" r="2.3" fill="#0f0906"/>
<circle cx="246.5" cy="211.2" r="2.3" fill="#0f0906"/>
<circle cx="252.5" cy="179.9" r="2.3" fill="#7e5033"/>
<circle cx="252.5" cy="183.4" r="2.3" fill="#6e462c"/>
<circle cx="252.5" cy="186.7" r="2.3" fill="#5e3b26"/>
<circle cx="252.5" cy="189.0" r="2.3" fill="#6e462c"/>
<circle cx="252.5" cy="193.1" r="2.3" fill="#000000"/>
<circle cx="252.5" cy="195.4" r="2.3" fill="#ad6d46"/>
<circle cx="252.5" cy="208.9" r="2.3" fill="#cd8253"/>
<circle cx="43.4" cy="216.8" r="2.3" fill="#0f0906"/>
<circle cx="43.4" cy="219.1" r="2.3" fill="#0f0906"/>
<circle cx="43.4" cy="222.0" r="2.3" fill="#3f2819"/>
<circle cx="43.4" cy="228.4" r="2.3" fill="#0f0906"/>
<circle cx="43.4" cy="232.3" r="2.3" fill="#0f0906"/>
<circle cx="43.4" cy="234.9" r="2.3" fill="#0f0906"/>
<circle cx="43.4" cy="240.1" r="2.3" fill="#0f0906"/>
<circle cx="43.4" cy="243.0" r="2.3" fill="#0f0906"/>
<circle cx="49.4" cy="217.9" r="2.3" fill="#6e462c"/>
<circle cx="49.4" cy="219.7" r="2.3" fill="#6e462c"/>
<circle cx="49.4" cy="236.0" r="2.3" fill="#0f0906"/>
<circle cx="49.4" cy="238.4" r="2.3" fill="#3f2819"/>
<circle cx="49.4" cy="244.8" r="2.3" fill="#000000"/>
<circle cx="49.4" cy="248.6" r="2.3" fill="#000000"/>
<circle cx="55.4" cy="216.2" r="2.3" fill="#0f0906"/>
<circle cx="55.4" cy="225.3" r="2.3" fill="#000000"/>
<circle cx="55.4" cy="238.4" r="2.3" fill="#000000"/>
<circle cx="55.4" cy="244.2" r="2.3" fill="#000000"/>
<circle cx="61.4" cy="215.6" r="2.3" fill="#0f0906"/>
<circle cx="61.4" cy="218.5" r="2.3" fill="#0f0906"/>
<circle cx="61.4" cy="223.4" r="2.3" fill="#000000"/>
<circle cx="61.4" cy="229.6" r="2.3" fill="#000000"/>
<circle cx="61.4" cy="240.5" r="2.3" fill="#0f0906"/>
<circle cx="61.4" cy="245.6" r="2.3" fill="#000000"/>
<circle cx="61.4" cy="248.9" r="2.3" fill="#000000"/>
<circle cx="67.3" cy="215.6" r="2.3" fill="#0f0906"/>
<circle cx="67.3" cy="230.2" r="2.3" fill="#0f0906"/>
<circle cx="67.3" cy="232.5" r="2.3" fill="#0f0906"/>
<circle cx="67.3" cy="234.9" r="2.3" fill="#5e3b26"/>
<circle cx="67.3" cy="238.4" r="2.3" fill="#000000"/>
<circle cx="67.3" cy="240.7" r="2.3" fill="#000000"/>
<circle cx="67.3" cy="243.0" r="2.3" fill="#000000"/>
<circle cx="67.3" cy="244.8" r="2.3" fill="#000000"/>
<circle cx="67.3" cy="248.3" r="2.3" fill="#0f0906"/>
<circle cx="73.3" cy="216.2" r="2.3" fill="#000000"/>
<circle cx="73.3" cy="238.4" r="2.3" fill="#7e5033"/>
<circle cx="73.3" cy="241.3" r="2.3" fill="#3f2819"/>
<circle cx="73.3" cy="244.2" r="2.3" fill="#000000"/>
<circle cx="73.3" cy="246.0" r="2.3" fill="#0f0906"/>
<circle cx="79.3" cy="215.6" r="2.3" fill="#0f0906"/>
<circle cx="79.3" cy="220.8" r="2.3" fill="#7e5033"/>
<circle cx="79.3" cy="240.9" r="2.3" fill="#000000"/>
<circle cx="79.3" cy="245.4" r="2.3" fill="#000000"/>
<circle cx="85.2" cy="216.8" r="2.3" fill="#000000"/>
<circle cx="85.2" cy="243.0" r="2.3" fill="#4f3220"/>
<circle cx="85.2" cy="246.0" r="2.3" fill="#7e5033"/>
<circle cx="85.2" cy="254.1" r="2.3" fill="#0f0906"/>
<circle cx="91.2" cy="216.4" r="2.3" fill="#6e462c"/>
<circle cx="91.2" cy="220.8" r="2.3" fill="#000000"/>
<circle cx="91.2" cy="232.5" r="2.3" fill="#8e5a39"/>
<circle cx="91.2" cy="240.7" r="2.3" fill="#0f0906"/>
<circle cx="91.2" cy="254.1" r="2.3" fill="#000000"/>
<circle cx="97.2" cy="222.0" r="2.3" fill="#0f0906"/>
<circle cx="97.2" cy="223.8" r="2.3" fill="#0f0906"/>
<circle cx="97.2" cy="227.8" r="2.3" fill="#6e462c"/>
<circle cx="97.2" cy="232.5" r="2.3" fill="#000000"/>
<circle cx="97.2" cy="238.4" r="2.3" fill="#0f0906"/>
<circle cx="97.2" cy="240.7" r="2.3" fill="#0f0906"/>
<circle cx="97.2" cy="245.4" r="2.3" fill="#000000"/>
<circle cx="97.2" cy="249.5" r="2.3" fill="#000000"/>
<circle cx="103.2" cy="220.3" r="2.3" fill="#000000"/>
<circle cx="103.2" cy="232.8" r="2.3" fill="#000000"/>
<circle cx="103.2" cy="242.8" r="2.3" fill="#000000"/>
<circle cx="109.1" cy="215.0" r="2.3" fill="#0f0906"/>
<circle cx="109.1" cy="219.7" r="2.3" fill="#0f0906"/>
<circle cx="109.1" cy="228.4" r="2.3" fill="#3f2819"/>
<circle cx="109.1" cy="233.7" r="2.3" fill="#0f0906"/>
<circle cx="109.1" cy="237.2" r="2.3" fill="#0f0906"/>
<circle cx="109.1" cy="243.0" r="2.3" fill="#0f0906"/>
<circle cx="109.1" cy="252.4" r="2.3" fill="#000000"/>
<circle cx="115.1" cy="217.6" r="2.3" fill="#000000"/>
<circle cx="115.1" cy="226.1" r="2.3" fill="#000000"/>
<circle cx="115.1" cy="228.1" r="2.3" fill="#0f0906"/>
<circle cx="121.1" cy="217.6" r="2.3" fill="#000000"/>
<circle cx="121.1" cy="230.2" r="2.3" fill="#000000"/>
<circle cx="127.1" cy="217.6" r="2.3" fill="#3f2819"/>
<circle cx="127.1" cy="219.1" r="2.3" fill="#0f0906"/>
<circle cx="127.1" cy="223.8" r="2.3" fill="#0f0906"/>
<circle cx="127.1" cy="231.9" r="2.3" fill="#0f0906"/>
<circle cx="127.1" cy="235.8" r="2.3" fill="#0f0906"/>
<circle cx="127.1" cy="249.5" r="2.3" fill="#000000"/>
<circle cx="133.0" cy="215.6" r="2.3" fill="#0f0906"/>
<circle cx="133.0" cy="217.3" r="2.3" fill="#0f0906"/>
<circle cx="133.0" cy="220.3" r="2.3" fill="#0f0906"/>
<circle cx="133.0" cy="232.5" r="2.3" fill="#0f0906"/>
<circle cx="133.0" cy="234.9" r="2.3" fill="#3f2819"/>
<circle cx="133.0" cy="236.6" r="2.3" fill="#0f0906"/>
<circle cx="133.0" cy="241.6" r="2.3" fill="#000000"/>
<circle cx="133.0" cy="250.6" r="2.3" fill="#3f2819"/>
<circle cx="139.0" cy="215.6" r="2.3" fill="#000000"/>
<circle cx="139.0" cy="223.2" r="2.3" fill="#0f0906"/>
<circle cx="139.0" cy="225.3" r="2.3" fill="#4f3220"/>
<circle cx="139.0" cy="228.1" r="2.3" fill="#3f2819"/>
<circle cx="139.0" cy="233.9" r="2.3" fill="#000000"/>
<circle cx="139.0" cy="246.8" r="2.3" fill="#000000"/>
<circle cx="145.0" cy="215.6" r="2.3" fill="#0f0906"/>
<circle cx="145.0" cy="217.9" r="2.3" fill="#3f2819"/>
<circle cx="145.0" cy="219.9" r="2.3" fill="#3f2819"/>
<circle cx="145.0" cy="238.1" r="2.3" fill="#000000"/>
<circle cx="150.9" cy="219.1" r="2.3" fill="#000000"/>
<circle cx="150.9" cy="223.4" r="2.3" fill="#0f0906"/>
<circle cx="150.9" cy="226.7" r="2.3" fill="#3f2819"/>
<circle cx="150.9" cy="228.8" r="2.3" fill="#0f0906"/>
<circle cx="150.9" cy="236.0" r="2.3" fill="#000000"/>
<circle cx="156.9" cy="216.2" r="2.3" fill="#0f0906"/>
<circle cx="156.9" cy="218.5" r="2.3" fill="#0f0906"/>
<circle cx="156.9" cy="228.8" r="2.3" fill="#0f0906"/>
<circle cx="156.9" cy="244.4" r="2.3" fill="#000000"/>
<circle cx="156.9" cy="252.4" r="2.3" fill="#2f1e13"/>
<circle cx="174.8" cy="216.8" r="2.3" fill="#000000"/>
<circle cx="174.8" cy="233.1" r="2.3" fill="#0f0906"/>
<circle cx="180.8" cy="219.7" r="2.3" fill="#0f0906"/>
<circle cx="186.8" cy="218.7" r="2.3" fill="#000000"/>
<circle cx="210.7" cy="217.6" r="2.3" fill="#3f2819"/>
<circle cx="210.7" cy="220.6" r="2.3" fill="#000000"/>
<circle cx="210.7" cy="227.8" r="2.3" fill="#0f0906"/>
<circle cx="210.7" cy="232.8" r="2.3" fill="#000000"/>
<circle cx="210.7" cy="237.2" r="2.3" fill="#000000"/>
<circle cx="216.7" cy="227.3" r="2.3" fill="#4f3220"/>
<circle cx="216.7" cy="230.0" r="2.3" fill="#000000"/>
<circle cx="240.5" cy="215.9" r="2.3" fill="#4f3220"/>
<circle cx="240.5" cy="221.4" r="2.3" fill="#000000"/>
<circle cx="240.5" cy="225.3" r="2.3" fill="#000000"/>
<circle cx="246.5" cy="225.7" r="2.3" fill="#000000"/>
<circle cx="252.5" cy="219.4" r="2.3" fill="#0f0906"/>
<circle cx="252.5" cy="226.4" r="2.3" fill="#0f0906"/>
<circle cx="252.5" cy="233.1" r="2.3" fill="#000000"/>
<circle cx="252.5" cy="241.6" r="2.3" fill="#000000"/>
<circle cx="252.5" cy="250.0" r="2.3" fill="#3f2819"/>
<circle cx="252.5" cy="252.1" r="2.3" fill="#0f0906"/>
<circle cx="43.4" cy="257.9" r="2.3" fill="#0f0906"/>
<circle cx="43.4" cy="260.3" r="2.3" fill="#0f0906"/>
<circle cx="43.4" cy="263.2" r="2.3" fill="#0f0906"/>
<circle cx="43.4" cy="268.8" r="2.3" fill="#0f0906"/>
<circle cx="43.4" cy="273.5" r="2.3" fill="#0f0906"/>
<circle cx="43.4" cy="284.0" r="2.3" fill="#0f0906"/>
<circle cx="43.4" cy="286.3" r="2.3" fill="#0f0906"/>
<circle cx="49.4" cy="256.2" r="2.3" fill="#0f0906"/>
<circle cx="49.4" cy="258.5" r="2.3" fill="#0f0906"/>
<circle cx="49.4" cy="260.8" r="2.3" fill="#0f0906"/>
<circle cx="49.4" cy="263.2" r="2.3" fill="#0f0906"/>
<circle cx="49.4" cy="270.8" r="2.3" fill="#0f0906"/>
<circle cx="49.4" cy="275.1" r="2.3" fill="#0f0906"/>
<circle cx="49.4" cy="277.2" r="2.3" fill="#0f0906"/>
<circle cx="49.4" cy="281.9" r="2.3" fill="#0f0906"/>
<circle cx="55.4" cy="259.9" r="2.3" fill="#000000"/>
<circle cx="61.4" cy="257.1" r="2.3" fill="#000000"/>
<circle cx="67.3" cy="259.7" r="2.3" fill="#0f0906"/>
<circle cx="67.3" cy="265.3" r="2.3" fill="#000000"/>
<circle cx="73.3" cy="256.2" r="2.3" fill="#0f0906"/>
<circle cx="73.3" cy="257.9" r="2.3" fill="#0f0906"/>
<circle cx="73.3" cy="266.4" r="2.3" fill="#000000"/>
<circle cx="73.3" cy="287.7" r="2.3" fill="#0f0906"/>
<circle cx="73.3" cy="289.5" r="2.3" fill="#0f0906"/>
<circle cx="73.3" cy="296.1" r="2.3" fill="#000000"/>
<circle cx="79.3" cy="257.3" r="2.3" fill="#0f0906"/>
<circle cx="79.3" cy="260.8" r="2.3" fill="#0f0906"/>
<circle cx="79.3" cy="273.5" r="2.3" fill="#000000"/>
<circle cx="79.3" cy="280.7" r="2.3" fill="#000000"/>
<circle cx="79.3" cy="281.9" r="2.3" fill="#000000"/>
<circle cx="79.3" cy="290.0" r="2.3" fill="#000000"/>
<circle cx="85.2" cy="255.6" r="2.3" fill="#0f0906"/>
<circle cx="85.2" cy="257.3" r="2.3" fill="#0f0906"/>
<circle cx="85.2" cy="270.2" r="2.3" fill="#000000"/>
<circle cx="85.2" cy="282.8" r="2.3" fill="#000000"/>
<circle cx="85.2" cy="296.1" r="2.3" fill="#000000"/>
<circle cx="91.2" cy="255.9" r="2.3" fill="#0f0906"/>
<circle cx="91.2" cy="263.4" r="2.3" fill="#000000"/>
<circle cx="91.2" cy="277.8" r="2.3" fill="#0f0906"/>
<circle cx="91.2" cy="279.8" r="2.3" fill="#0f0906"/>
<circle cx="91.2" cy="284.2" r="2.3" fill="#0f0906"/>
<circle cx="91.2" cy="285.9" r="2.3" fill="#0f0906"/>
<circle cx="91.2" cy="288.6" r="2.3" fill="#000000"/>
<circle cx="97.2" cy="255.9" r="2.3" fill="#0f0906"/>
<circle cx="97.2" cy="257.6" r="2.3" fill="#0f0906"/>
<circle cx="97.2" cy="259.9" r="2.3" fill="#0f0906"/>
<circle cx="97.2" cy="264.9" r="2.3" fill="#000000"/>
<circle cx="109.1" cy="260.6" r="2.3" fill="#000000"/>
<circle cx="109.1" cy="272.3" r="2.3" fill="#000000"/>
<circle cx="133.0" cy="258.3" r="2.3" fill="#000000"/>
<circle cx="156.9" cy="259.4" r="2.3" fill="#000000"/>
<circle cx="43.4" cy="303.7" r="2.3" fill="#000000"/>
<circle cx="49.4" cy="297.8" r="2.3" fill="#000000"/>
<circle cx="85.2" cy="302.5" r="2.3" fill="#0f0906"/>
<circle cx="85.2" cy="306.3" r="2.3" fill="#000000"/>
<circle cx="252.5" cy="272.1" r="2.3" fill="#0f0906"/>
</g>
<line x1="43.45" y1="211.1" x2="252.5" y2="123.3" stroke="#ffff00" stroke-width="3.7" stroke-linecap="square" clip-path="url(#cl)"/>
<g clip-path="url(#cr)">
<circle cx="411.8" cy="28.8" r="2.3" fill="#b0dd2f"/>
<circle cx="397.8" cy="39.8" r="2.3" fill="#7ad151"/>
<circle cx="398.9" cy="42.4" r="2.3" fill="#b0dd2f"/>
<circle cx="434.0" cy="55.2" r="2.3" fill="#b0dd2f"/>
<circle cx="570.9" cy="29.0" r="2.3" fill="#2a788e"/>
<circle cx="562.4" cy="38.6" r="2.3" fill="#2a788e"/>
<circle cx="569.1" cy="37.2" r="2.3" fill="#b0dd2f"/>
<circle cx="573.0" cy="37.0" r="2.3" fill="#9bd93c"/>
<circle cx="572.3" cy="40.1" r="2.3" fill="#ece51b"/>
<circle cx="573.0" cy="44.4" r="2.3" fill="#9bd93c"/>
<circle cx="573.0" cy="46.3" r="2.3" fill="#9bd93c"/>
<circle cx="569.1" cy="51.8" r="2.3" fill="#b0dd2f"/>
<circle cx="573.0" cy="52.6" r="2.3" fill="#9bd93c"/>
<circle cx="570.3" cy="54.1" r="2.3" fill="#5ec962"/>
<circle cx="487.7" cy="52.4" r="2.3" fill="#287d8e"/>
<circle cx="410.6" cy="59.9" r="2.3" fill="#9bd93c"/>
<circle cx="396.9" cy="65.5" r="2.3" fill="#5ec962"/>
<circle cx="399.9" cy="64.9" r="2.3" fill="#ece51b"/>
<circle cx="396.9" cy="71.4" r="2.3" fill="#44bf70"/>
<circle cx="434.0" cy="69.6" r="2.3" fill="#9bd93c"/>
<circle cx="433.5" cy="73.7" r="2.3" fill="#6ece58"/>
<circle cx="432.6" cy="75.1" r="2.3" fill="#2fb47c"/>
<circle cx="434.0" cy="77.0" r="2.3" fill="#bddf26"/>
<circle cx="407.8" cy="77.0" r="2.3" fill="#44bf70"/>
<circle cx="410.4" cy="77.2" r="2.3" fill="#7ad151"/>
<circle cx="408.0" cy="79.5" r="2.3" fill="#4ec36b"/>
<circle cx="409.8" cy="82.1" r="2.3" fill="#bddf26"/>
<circle cx="396.9" cy="80.9" r="2.3" fill="#9bd93c"/>
<circle cx="406.6" cy="85.1" r="2.3" fill="#2fb47c"/>
<circle cx="396.9" cy="86.8" r="2.3" fill="#22a884"/>
<circle cx="397.8" cy="88.3" r="2.3" fill="#7ad151"/>
<circle cx="400.8" cy="90.0" r="2.3" fill="#9bd93c"/>
<circle cx="398.5" cy="90.6" r="2.3" fill="#b0dd2f"/>
<circle cx="423.8" cy="87.9" r="2.3" fill="#5ec962"/>
<circle cx="428.8" cy="89.8" r="2.3" fill="#2a788e"/>
<circle cx="429.0" cy="91.8" r="2.3" fill="#22a884"/>
<circle cx="433.5" cy="87.7" r="2.3" fill="#5ec962"/>
<circle cx="434.0" cy="93.5" r="2.3" fill="#b0dd2f"/>
<circle cx="422.0" cy="94.5" r="2.3" fill="#22a884"/>
<circle cx="396.9" cy="94.7" r="2.3" fill="#2fb47c"/>
<circle cx="447.7" cy="85.6" r="2.3" fill="#bddf26"/>
<circle cx="455.3" cy="84.8" r="2.3" fill="#bddf26"/>
<circle cx="477.2" cy="62.2" r="2.3" fill="#44bf70"/>
<circle cx="477.0" cy="66.7" r="2.3" fill="#44bf70"/>
<circle cx="479.8" cy="73.7" r="2.3" fill="#9bd93c"/>
<circle cx="475.8" cy="77.0" r="2.3" fill="#2fb47c"/>
<circle cx="473.5" cy="79.8" r="2.3" fill="#5ec962"/>
<circle cx="472.5" cy="81.3" r="2.3" fill="#22a884"/>
<circle cx="477.2" cy="80.7" r="2.3" fill="#6ece58"/>
<circle cx="480.7" cy="79.3" r="2.3" fill="#9bd93c"/>
<circle cx="479.8" cy="84.0" r="2.3" fill="#dfe318"/>
<circle cx="470.2" cy="85.1" r="2.3" fill="#22a884"/>
<circle cx="488.3" cy="85.6" r="2.3" fill="#5ec962"/>
<circle cx="470.8" cy="93.5" r="2.3" fill="#482475"/>
<circle cx="504.3" cy="57.9" r="2.3" fill="#ece51b"/>
<circle cx="502.3" cy="60.8" r="2.3" fill="#5ec962"/>
<circle cx="503.8" cy="63.2" r="2.3" fill="#bddf26"/>
<circle cx="503.8" cy="66.9" r="2.3" fill="#5ec962"/>
<circle cx="503.1" cy="71.1" r="2.3" fill="#9bd93c"/>
<circle cx="500.5" cy="76.6" r="2.3" fill="#22a884"/>
<circle cx="504.0" cy="77.0" r="2.3" fill="#dfe318"/>
<circle cx="502.9" cy="80.7" r="2.3" fill="#5ec962"/>
<circle cx="502.6" cy="91.0" r="2.3" fill="#6ece58"/>
<circle cx="493.5" cy="94.1" r="2.3" fill="#1e9c89"/>
<circle cx="498.2" cy="94.7" r="2.3" fill="#1e9c89"/>
<circle cx="502.3" cy="94.5" r="2.3" fill="#2a788e"/>
<circle cx="529.7" cy="66.1" r="2.3" fill="#bddf26"/>
<circle cx="529.7" cy="70.2" r="2.3" fill="#bddf26"/>
<circle cx="528.0" cy="73.9" r="2.3" fill="#5ec962"/>
<circle cx="528.8" cy="83.0" r="2.3" fill="#dfe318"/>
<circle cx="521.3" cy="92.1" r="2.3" fill="#22a884"/>
<circle cx="525.7" cy="93.3" r="2.3" fill="#22a884"/>
<circle cx="528.0" cy="93.0" r="2.3" fill="#2fb47c"/>
<circle cx="568.0" cy="56.2" r="2.3" fill="#dfe318"/>
<circle cx="569.7" cy="57.3" r="2.3" fill="#6ece58"/>
<circle cx="572.6" cy="56.8" r="2.3" fill="#5ec962"/>
<circle cx="572.6" cy="60.3" r="2.3" fill="#6ece58"/>
<circle cx="569.1" cy="63.8" r="2.3" fill="#6ece58"/>
<circle cx="572.6" cy="66.7" r="2.3" fill="#6ece58"/>
<circle cx="570.9" cy="68.4" r="2.3" fill="#2fb47c"/>
<circle cx="572.6" cy="68.8" r="2.3" fill="#9bd93c"/>
<circle cx="568.8" cy="72.5" r="2.3" fill="#481d6f"/>
<circle cx="546.4" cy="76.6" r="2.3" fill="#482475"/>
<circle cx="568.3" cy="79.3" r="2.3" fill="#9bd93c"/>
<circle cx="571.8" cy="79.5" r="2.3" fill="#44bf70"/>
<circle cx="568.0" cy="83.0" r="2.3" fill="#7ad151"/>
<circle cx="570.9" cy="85.6" r="2.3" fill="#25848e"/>
<circle cx="570.9" cy="87.7" r="2.3" fill="#1e9c89"/>
<circle cx="570.9" cy="90.0" r="2.3" fill="#1e9c89"/>
<circle cx="563.9" cy="90.6" r="2.3" fill="#25848e"/>
<circle cx="569.7" cy="93.0" r="2.3" fill="#1e9c89"/>
<circle cx="567.4" cy="93.5" r="2.3" fill="#1e9c89"/>
<circle cx="559.8" cy="94.1" r="2.3" fill="#2a788e"/>
<circle cx="396.6" cy="95.6" r="2.3" fill="#2fb47c"/>
<circle cx="396.6" cy="97.9" r="2.3" fill="#5ec962"/>
<circle cx="396.4" cy="102.6" r="2.3" fill="#2fb47c"/>
<circle cx="399.3" cy="104.9" r="2.3" fill="#dfe318"/>
<circle cx="401.6" cy="100.3" r="2.3" fill="#b0dd2f"/>
<circle cx="401.6" cy="103.8" r="2.3" fill="#bddf26"/>
<circle cx="396.4" cy="110.2" r="2.3" fill="#2a788e"/>
<circle cx="397.5" cy="113.1" r="2.3" fill="#5ec962"/>
<circle cx="396.4" cy="116.0" r="2.3" fill="#1e9c89"/>
<circle cx="396.9" cy="117.8" r="2.3" fill="#25848e"/>
<circle cx="396.4" cy="121.3" r="2.3" fill="#1e9c89"/>
<circle cx="398.9" cy="120.7" r="2.3" fill="#bddf26"/>
<circle cx="401.3" cy="119.5" r="2.3" fill="#5ec962"/>
<circle cx="396.1" cy="126.3" r="2.3" fill="#38588c"/>
<circle cx="396.4" cy="128.9" r="2.3" fill="#1e9c89"/>
<circle cx="397.5" cy="130.0" r="2.3" fill="#5ec962"/>
<circle cx="395.2" cy="132.1" r="2.3" fill="#2a788e"/>
<circle cx="398.9" cy="133.0" r="2.3" fill="#9bd93c"/>
<circle cx="401.3" cy="129.8" r="2.3" fill="#287d8e"/>
<circle cx="401.3" cy="133.5" r="2.3" fill="#7ad151"/>
<circle cx="403.9" cy="108.4" r="2.3" fill="#1e9c89"/>
<circle cx="405.7" cy="102.6" r="2.3" fill="#1e9c89"/>
<circle cx="408.0" cy="104.3" r="2.3" fill="#5ec962"/>
<circle cx="409.8" cy="110.8" r="2.3" fill="#5ec962"/>
<circle cx="410.9" cy="101.4" r="2.3" fill="#b0dd2f"/>
<circle cx="412.7" cy="99.1" r="2.3" fill="#dfe318"/>
<circle cx="413.9" cy="96.8" r="2.3" fill="#dfe318"/>
<circle cx="406.9" cy="118.9" r="2.3" fill="#44bf70"/>
<circle cx="404.3" cy="122.4" r="2.3" fill="#25848e"/>
<circle cx="406.6" cy="123.0" r="2.3" fill="#287d8e"/>
<circle cx="410.1" cy="119.8" r="2.3" fill="#25848e"/>
<circle cx="405.1" cy="126.5" r="2.3" fill="#22a884"/>
<circle cx="411.5" cy="130.0" r="2.3" fill="#25848e"/>
<circle cx="414.5" cy="131.2" r="2.3" fill="#25848e"/>
<circle cx="407.8" cy="133.0" r="2.3" fill="#b0dd2f"/>
<circle cx="409.8" cy="133.5" r="2.3" fill="#dfe318"/>
<circle cx="421.5" cy="95.6" r="2.3" fill="#22a884"/>
<circle cx="423.8" cy="96.8" r="2.3" fill="#5ec962"/>
<circle cx="421.5" cy="101.4" r="2.3" fill="#22a884"/>
<circle cx="423.8" cy="103.2" r="2.3" fill="#5ec962"/>
<circle cx="426.1" cy="106.1" r="2.3" fill="#9bd93c"/>
<circle cx="427.9" cy="100.3" r="2.3" fill="#b0dd2f"/>
<circle cx="429.0" cy="107.8" r="2.3" fill="#dfe318"/>
<circle cx="422.6" cy="116.6" r="2.3" fill="#2fb47c"/>
<circle cx="419.1" cy="119.5" r="2.3" fill="#25848e"/>
<circle cx="416.2" cy="123.0" r="2.3" fill="#21918c"/>
<circle cx="417.4" cy="126.8" r="2.3" fill="#25848e"/>
<circle cx="426.7" cy="122.4" r="2.3" fill="#9bd93c"/>
<circle cx="426.1" cy="118.4" r="2.3" fill="#22a884"/>
<circle cx="422.6" cy="128.3" r="2.3" fill="#44bf70"/>
<circle cx="427.9" cy="128.3" r="2.3" fill="#5ec962"/>
<circle cx="425.0" cy="133.5" r="2.3" fill="#9bd93c"/>
<circle cx="427.9" cy="133.5" r="2.3" fill="#9bd93c"/>
<circle cx="430.8" cy="133.5" r="2.3" fill="#2a788e"/>
<circle cx="433.1" cy="133.0" r="2.3" fill="#3e4989"/>
<circle cx="431.4" cy="100.8" r="2.3" fill="#b0dd2f"/>
<circle cx="433.1" cy="100.3" r="2.3" fill="#7ad151"/>
<circle cx="436.6" cy="99.7" r="2.3" fill="#dfe318"/>
<circle cx="431.4" cy="104.9" r="2.3" fill="#482475"/>
<circle cx="433.1" cy="106.7" r="2.3" fill="#dfe318"/>
<circle cx="435.5" cy="106.1" r="2.3" fill="#1e9c89"/>
<circle cx="433.7" cy="110.2" r="2.3" fill="#2fb47c"/>
<circle cx="433.7" cy="112.5" r="2.3" fill="#5ec962"/>
<circle cx="433.7" cy="115.8" r="2.3" fill="#dfe318"/>
<circle cx="433.7" cy="117.8" r="2.3" fill="#25848e"/>
<circle cx="430.2" cy="120.7" r="2.3" fill="#44bf70"/>
<circle cx="433.7" cy="122.4" r="2.3" fill="#1e9c89"/>
<circle cx="433.7" cy="124.8" r="2.3" fill="#1e9c89"/>
<circle cx="433.7" cy="127.5" r="2.3" fill="#1e9c89"/>
<circle cx="437.2" cy="123.6" r="2.3" fill="#1e9c89"/>
<circle cx="439.6" cy="126.0" r="2.3" fill="#22a884"/>
<circle cx="441.0" cy="123.6" r="2.3" fill="#44bf70"/>
<circle cx="443.1" cy="113.7" r="2.3" fill="#5ec962"/>
<circle cx="443.1" cy="120.5" r="2.3" fill="#471365"/>
<circle cx="444.8" cy="124.2" r="2.3" fill="#9bd93c"/>
<circle cx="446.0" cy="127.1" r="2.3" fill="#9bd93c"/>
<circle cx="441.3" cy="131.8" r="2.3" fill="#5ec962"/>
<circle cx="444.2" cy="131.2" r="2.3" fill="#9bd93c"/>
<circle cx="450.1" cy="132.1" r="2.3" fill="#44bf70"/>
<circle cx="448.9" cy="116.6" r="2.3" fill="#bddf26"/>
<circle cx="448.9" cy="120.1" r="2.3" fill="#dfe318"/>
<circle cx="452.4" cy="117.8" r="2.3" fill="#2a788e"/>
<circle cx="453.0" cy="113.5" r="2.3" fill="#44bf70"/>
<circle cx="454.2" cy="121.3" r="2.3" fill="#2a788e"/>
<circle cx="455.3" cy="116.6" r="2.3" fill="#dfe318"/>
<circle cx="455.9" cy="122.4" r="2.3" fill="#bddf26"/>
<circle cx="454.7" cy="106.1" r="2.3" fill="#9bd93c"/>
<circle cx="455.9" cy="131.4" r="2.3" fill="#25848e"/>
<circle cx="459.4" cy="103.2" r="2.3" fill="#25848e"/>
<circle cx="459.4" cy="128.9" r="2.3" fill="#482475"/>
<circle cx="459.4" cy="132.4" r="2.3" fill="#dfe318"/>
<circle cx="474.9" cy="97.9" r="2.3" fill="#6ece58"/>
<circle cx="478.1" cy="99.4" r="2.3" fill="#dfe318"/>
<circle cx="480.9" cy="102.6" r="2.3" fill="#287d8e"/>
<circle cx="462.2" cy="101.8" r="2.3" fill="#1e9c89"/>
<circle cx="460.8" cy="103.4" r="2.3" fill="#1e9c89"/>
<circle cx="476.0" cy="110.2" r="2.3" fill="#7ad151"/>
<circle cx="474.3" cy="113.1" r="2.3" fill="#6ece58"/>
<circle cx="471.4" cy="114.6" r="2.3" fill="#9bd93c"/>
<circle cx="468.4" cy="115.8" r="2.3" fill="#1e9c89"/>
<circle cx="471.9" cy="118.6" r="2.3" fill="#482475"/>
<circle cx="464.9" cy="119.8" r="2.3" fill="#1e9c89"/>
<circle cx="471.6" cy="123.0" r="2.3" fill="#b0dd2f"/>
<circle cx="460.8" cy="128.3" r="2.3" fill="#482475"/>
<circle cx="459.1" cy="131.8" r="2.3" fill="#1e9c89"/>
<circle cx="469.0" cy="128.9" r="2.3" fill="#7ad151"/>
<circle cx="490.0" cy="100.8" r="2.3" fill="#287d8e"/>
<circle cx="493.5" cy="95.6" r="2.3" fill="#1e9c89"/>
<circle cx="498.2" cy="96.2" r="2.3" fill="#22a884"/>
<circle cx="502.3" cy="95.6" r="2.3" fill="#25848e"/>
<circle cx="505.2" cy="98.7" r="2.3" fill="#25848e"/>
<circle cx="499.4" cy="102.6" r="2.3" fill="#22a884"/>
<circle cx="488.9" cy="108.1" r="2.3" fill="#5ec962"/>
<circle cx="492.4" cy="110.8" r="2.3" fill="#25848e"/>
<circle cx="490.0" cy="111.9" r="2.3" fill="#1e9c89"/>
<circle cx="493.0" cy="112.5" r="2.3" fill="#1e9c89"/>
<circle cx="495.9" cy="107.3" r="2.3" fill="#1e9c89"/>
<circle cx="497.6" cy="110.2" r="2.3" fill="#25848e"/>
<circle cx="500.0" cy="111.9" r="2.3" fill="#22a884"/>
<circle cx="487.7" cy="114.3" r="2.3" fill="#44bf70"/>
<circle cx="490.6" cy="114.3" r="2.3" fill="#7ad151"/>
<circle cx="486.0" cy="118.4" r="2.3" fill="#1e9c89"/>
<circle cx="483.6" cy="122.8" r="2.3" fill="#25848e"/>
<circle cx="493.0" cy="120.5" r="2.3" fill="#b0dd2f"/>
<circle cx="494.7" cy="125.6" r="2.3" fill="#dfe318"/>
<circle cx="487.7" cy="127.5" r="2.3" fill="#22a884"/>
<circle cx="487.9" cy="132.6" r="2.3" fill="#2fb47c"/>
<circle cx="502.9" cy="127.9" r="2.3" fill="#44bf70"/>
<circle cx="508.7" cy="124.8" r="2.3" fill="#1e9c89"/>
<circle cx="509.3" cy="117.2" r="2.3" fill="#1e9c89"/>
<circle cx="514.0" cy="104.9" r="2.3" fill="#1e9c89"/>
<circle cx="523.9" cy="108.8" r="2.3" fill="#22a884"/>
<circle cx="528.0" cy="106.7" r="2.3" fill="#5ec962"/>
<circle cx="528.6" cy="100.3" r="2.3" fill="#9bd93c"/>
<circle cx="526.8" cy="113.5" r="2.3" fill="#7ad151"/>
<circle cx="528.0" cy="124.4" r="2.3" fill="#2fb47c"/>
<circle cx="527.2" cy="127.9" r="2.3" fill="#9bd93c"/>
<circle cx="548.9" cy="100.6" r="2.3" fill="#463480"/>
<circle cx="561.8" cy="97.9" r="2.3" fill="#25848e"/>
<circle cx="567.4" cy="96.2" r="2.3" fill="#22a884"/>
<circle cx="570.3" cy="96.2" r="2.3" fill="#25848e"/>
<circle cx="568.0" cy="99.1" r="2.3" fill="#2fb47c"/>
<circle cx="571.8" cy="99.4" r="2.3" fill="#44bf70"/>
<circle cx="570.9" cy="103.4" r="2.3" fill="#2fb47c"/>
<circle cx="566.8" cy="105.5" r="2.3" fill="#1e9c89"/>
<circle cx="569.7" cy="106.7" r="2.3" fill="#2a788e"/>
<circle cx="570.9" cy="110.2" r="2.3" fill="#1e9c89"/>
<circle cx="570.3" cy="111.4" r="2.3" fill="#3e4989"/>
<circle cx="556.9" cy="113.7" r="2.3" fill="#287d8e"/>
<circle cx="554.5" cy="111.9" r="2.3" fill="#25848e"/>
<circle cx="565.0" cy="114.9" r="2.3" fill="#1e9c89"/>
<circle cx="570.9" cy="115.8" r="2.3" fill="#25848e"/>
<circle cx="551.3" cy="119.8" r="2.3" fill="#3e4989"/>
<circle cx="557.8" cy="123.0" r="2.3" fill="#287d8e"/>
<circle cx="552.2" cy="125.1" r="2.3" fill="#414487"/>
<circle cx="543.4" cy="127.1" r="2.3" fill="#481d6f"/>
<circle cx="568.5" cy="125.6" r="2.3" fill="#481d6f"/>
<circle cx="570.3" cy="129.5" r="2.3" fill="#414487"/>
<circle cx="549.9" cy="133.0" r="2.3" fill="#463480"/>
<circle cx="566.8" cy="133.5" r="2.3" fill="#dfe318"/>
<circle cx="569.1" cy="134.1" r="2.3" fill="#482475"/>
<circle cx="390.5" cy="139.7" r="2.3" fill="#44bf70"/>
<circle cx="390.5" cy="146.4" r="2.3" fill="#5ec962"/>
<circle cx="390.5" cy="155.4" r="2.3" fill="#22a884"/>
<circle cx="390.5" cy="158.9" r="2.3" fill="#b0dd2f"/>
<circle cx="391.1" cy="162.4" r="2.3" fill="#5ec962"/>
<circle cx="391.1" cy="166.0" r="2.3" fill="#22a884"/>
<circle cx="390.5" cy="170.0" r="2.3" fill="#7ad151"/>
<circle cx="396.4" cy="136.2" r="2.3" fill="#22a884"/>
<circle cx="399.3" cy="136.2" r="2.3" fill="#b0dd2f"/>
<circle cx="396.4" cy="140.3" r="2.3" fill="#b0dd2f"/>
<circle cx="398.7" cy="143.2" r="2.3" fill="#44bf70"/>
<circle cx="395.2" cy="146.7" r="2.3" fill="#414487"/>
<circle cx="394.6" cy="149.6" r="2.3" fill="#25848e"/>
<circle cx="397.5" cy="150.2" r="2.3" fill="#22a884"/>
<circle cx="400.4" cy="148.4" r="2.3" fill="#dfe318"/>
<circle cx="401.6" cy="146.1" r="2.3" fill="#bddf26"/>
<circle cx="401.6" cy="151.4" r="2.3" fill="#dfe318"/>
<circle cx="398.7" cy="153.1" r="2.3" fill="#6ece58"/>
<circle cx="394.0" cy="154.3" r="2.3" fill="#414487"/>
<circle cx="394.6" cy="157.8" r="2.3" fill="#3e4989"/>
<circle cx="398.7" cy="156.0" r="2.3" fill="#1e9c89"/>
<circle cx="398.1" cy="159.5" r="2.3" fill="#22a884"/>
<circle cx="395.8" cy="162.4" r="2.3" fill="#5ec962"/>
<circle cx="399.3" cy="163.0" r="2.3" fill="#44bf70"/>
<circle cx="402.2" cy="164.2" r="2.3" fill="#dfe318"/>
<circle cx="395.2" cy="166.0" r="2.3" fill="#9bd93c"/>
<circle cx="397.5" cy="166.5" r="2.3" fill="#7ad151"/>
<circle cx="400.4" cy="167.7" r="2.3" fill="#22a884"/>
<circle cx="403.4" cy="168.3" r="2.3" fill="#5ec962"/>
<circle cx="395.8" cy="171.2" r="2.3" fill="#6ece58"/>
<circle cx="398.7" cy="172.4" r="2.3" fill="#dfe318"/>
<circle cx="401.6" cy="171.8" r="2.3" fill="#9bd93c"/>
<circle cx="394.0" cy="174.1" r="2.3" fill="#1e9c89"/>
<circle cx="405.1" cy="136.8" r="2.3" fill="#5ec962"/>
<circle cx="408.0" cy="135.6" r="2.3" fill="#2fb47c"/>
<circle cx="406.9" cy="140.3" r="2.3" fill="#22a884"/>
<circle cx="405.1" cy="144.3" r="2.3" fill="#2fb47c"/>
<circle cx="405.7" cy="146.7" r="2.3" fill="#22a884"/>
<circle cx="408.6" cy="142.0" r="2.3" fill="#6ece58"/>
<circle cx="409.8" cy="148.8" r="2.3" fill="#b0dd2f"/>
<circle cx="410.9" cy="140.3" r="2.3" fill="#25848e"/>
<circle cx="413.3" cy="137.3" r="2.3" fill="#25848e"/>
<circle cx="415.0" cy="140.3" r="2.3" fill="#463480"/>
<circle cx="412.7" cy="145.5" r="2.3" fill="#25848e"/>
<circle cx="413.9" cy="149.6" r="2.3" fill="#5ec962"/>
<circle cx="413.9" cy="151.9" r="2.3" fill="#44bf70"/>
<circle cx="406.6" cy="157.2" r="2.3" fill="#5ec962"/>
<circle cx="406.3" cy="160.1" r="2.3" fill="#22a884"/>
<circle cx="405.1" cy="163.0" r="2.3" fill="#3e4989"/>
<circle cx="408.0" cy="164.8" r="2.3" fill="#2a788e"/>
<circle cx="410.4" cy="164.8" r="2.3" fill="#2a788e"/>
<circle cx="403.9" cy="168.9" r="2.3" fill="#7ad151"/>
<circle cx="405.1" cy="171.2" r="2.3" fill="#6ece58"/>
<circle cx="415.0" cy="156.6" r="2.3" fill="#dfe318"/>
<circle cx="415.0" cy="159.5" r="2.3" fill="#bddf26"/>
<circle cx="416.8" cy="166.0" r="2.3" fill="#25848e"/>
<circle cx="415.0" cy="170.0" r="2.3" fill="#22a884"/>
<circle cx="420.3" cy="144.9" r="2.3" fill="#1e9c89"/>
<circle cx="424.4" cy="138.3" r="2.3" fill="#25848e"/>
<circle cx="426.7" cy="137.9" r="2.3" fill="#25848e"/>
<circle cx="427.9" cy="144.1" r="2.3" fill="#b0dd2f"/>
<circle cx="429.6" cy="146.7" r="2.3" fill="#1e9c89"/>
<circle cx="431.4" cy="135.6" r="2.3" fill="#287d8e"/>
<circle cx="433.7" cy="140.8" r="2.3" fill="#25848e"/>
<circle cx="436.6" cy="138.5" r="2.3" fill="#22a884"/>
<circle cx="433.7" cy="151.4" r="2.3" fill="#2a788e"/>
<circle cx="426.1" cy="155.4" r="2.3" fill="#1e9c89"/>
<circle cx="433.1" cy="161.3" r="2.3" fill="#1e9c89"/>
<circle cx="432.6" cy="165.6" r="2.3" fill="#3e4989"/>
<circle cx="431.4" cy="172.1" r="2.3" fill="#414487"/>
<circle cx="434.9" cy="170.6" r="2.3" fill="#22a884"/>
<circle cx="425.0" cy="174.7" r="2.3" fill="#2a788e"/>
<circle cx="440.7" cy="137.9" r="2.3" fill="#dfe318"/>
<circle cx="443.1" cy="139.7" r="2.3" fill="#7ad151"/>
<circle cx="446.0" cy="137.3" r="2.3" fill="#22a884"/>
<circle cx="452.4" cy="141.4" r="2.3" fill="#6ece58"/>
<circle cx="453.6" cy="143.8" r="2.3" fill="#25848e"/>
<circle cx="454.7" cy="146.7" r="2.3" fill="#9bd93c"/>
<circle cx="445.4" cy="147.8" r="2.3" fill="#414487"/>
<circle cx="444.2" cy="145.5" r="2.3" fill="#2fb47c"/>
<circle cx="438.4" cy="151.4" r="2.3" fill="#22a884"/>
<circle cx="440.7" cy="151.9" r="2.3" fill="#2fb47c"/>
<circle cx="443.1" cy="152.3" r="2.3" fill="#2fb47c"/>
<circle cx="437.2" cy="156.6" r="2.3" fill="#22a884"/>
<circle cx="443.6" cy="157.8" r="2.3" fill="#44bf70"/>
<circle cx="440.1" cy="160.1" r="2.3" fill="#482475"/>
<circle cx="440.7" cy="163.0" r="2.3" fill="#463480"/>
<circle cx="443.6" cy="162.4" r="2.3" fill="#4ec36b"/>
<circle cx="439.6" cy="164.8" r="2.3" fill="#482475"/>
<circle cx="447.7" cy="156.0" r="2.3" fill="#443a83"/>
<circle cx="450.7" cy="156.0" r="2.3" fill="#3e4989"/>
<circle cx="449.5" cy="158.9" r="2.3" fill="#3e4989"/>
<circle cx="447.2" cy="160.1" r="2.3" fill="#443a83"/>
<circle cx="451.2" cy="163.0" r="2.3" fill="#287d8e"/>
<circle cx="457.1" cy="160.1" r="2.3" fill="#1e9c89"/>
<circle cx="457.7" cy="150.2" r="2.3" fill="#25848e"/>
<circle cx="457.7" cy="168.9" r="2.3" fill="#25848e"/>
<circle cx="457.1" cy="172.4" r="2.3" fill="#482475"/>
<circle cx="446.6" cy="173.0" r="2.3" fill="#b0dd2f"/>
<circle cx="470.2" cy="136.4" r="2.3" fill="#7ad151"/>
<circle cx="476.0" cy="137.1" r="2.3" fill="#3e4989"/>
<circle cx="477.8" cy="142.9" r="2.3" fill="#38588c"/>
<circle cx="460.3" cy="145.7" r="2.3" fill="#25848e"/>
<circle cx="465.3" cy="147.6" r="2.3" fill="#463480"/>
<circle cx="469.2" cy="148.4" r="2.3" fill="#5ec962"/>
<circle cx="457.9" cy="150.4" r="2.3" fill="#25848e"/>
<circle cx="477.2" cy="147.8" r="2.3" fill="#3e4989"/>
<circle cx="480.1" cy="151.1" r="2.3" fill="#38588c"/>
<circle cx="473.7" cy="150.8" r="2.3" fill="#443a83"/>
<circle cx="471.9" cy="153.1" r="2.3" fill="#443a83"/>
<circle cx="474.9" cy="155.8" r="2.3" fill="#3e4989"/>
<circle cx="467.8" cy="155.1" r="2.3" fill="#1e9c89"/>
<circle cx="469.6" cy="156.6" r="2.3" fill="#482475"/>
<circle cx="469.6" cy="159.8" r="2.3" fill="#481d6f"/>
<circle cx="465.5" cy="160.9" r="2.3" fill="#1e9c89"/>
<circle cx="457.3" cy="159.8" r="2.3" fill="#1e9c89"/>
<circle cx="481.9" cy="162.1" r="2.3" fill="#1e9c89"/>
<circle cx="457.9" cy="168.6" r="2.3" fill="#25848e"/>
<circle cx="462.0" cy="170.6" r="2.3" fill="#25848e"/>
<circle cx="464.9" cy="172.6" r="2.3" fill="#21918c"/>
<circle cx="468.8" cy="169.8" r="2.3" fill="#414487"/>
<circle cx="468.4" cy="173.5" r="2.3" fill="#1e9c89"/>
<circle cx="456.8" cy="173.0" r="2.3" fill="#481d6f"/>
<circle cx="484.8" cy="141.4" r="2.3" fill="#22a884"/>
<circle cx="491.8" cy="141.1" r="2.3" fill="#9bd93c"/>
<circle cx="498.4" cy="138.3" r="2.3" fill="#9bd93c"/>
<circle cx="494.1" cy="146.7" r="2.3" fill="#44bf70"/>
<circle cx="496.5" cy="147.3" r="2.3" fill="#6ece58"/>
<circle cx="499.4" cy="148.4" r="2.3" fill="#dfe318"/>
<circle cx="495.0" cy="151.1" r="2.3" fill="#44bf70"/>
<circle cx="489.5" cy="153.5" r="2.3" fill="#6ece58"/>
<circle cx="497.6" cy="154.3" r="2.3" fill="#7ad151"/>
<circle cx="498.4" cy="156.3" r="2.3" fill="#b0dd2f"/>
<circle cx="488.3" cy="157.4" r="2.3" fill="#44bf70"/>
<circle cx="492.1" cy="157.4" r="2.3" fill="#3bbb75"/>
<circle cx="490.0" cy="166.3" r="2.3" fill="#22a884"/>
<circle cx="493.8" cy="165.6" r="2.3" fill="#2fb47c"/>
<circle cx="488.9" cy="167.9" r="2.3" fill="#7ad151"/>
<circle cx="495.6" cy="169.1" r="2.3" fill="#5ec962"/>
<circle cx="505.0" cy="146.9" r="2.3" fill="#dfe318"/>
<circle cx="507.0" cy="144.3" r="2.3" fill="#25848e"/>
<circle cx="518.1" cy="139.9" r="2.3" fill="#1e9c89"/>
<circle cx="530.3" cy="142.2" r="2.3" fill="#dfe318"/>
<circle cx="542.3" cy="138.3" r="2.3" fill="#481d6f"/>
<circle cx="569.7" cy="135.6" r="2.3" fill="#443a83"/>
<circle cx="572.0" cy="139.7" r="2.3" fill="#ece51b"/>
<circle cx="390.5" cy="177.9" r="2.3" fill="#b0dd2f"/>
<circle cx="391.7" cy="176.8" r="2.3" fill="#5ec962"/>
<circle cx="396.4" cy="176.2" r="2.3" fill="#5ec962"/>
<circle cx="397.5" cy="179.7" r="2.3" fill="#6ece58"/>
<circle cx="399.3" cy="177.3" r="2.3" fill="#5ec962"/>
<circle cx="394.6" cy="181.4" r="2.3" fill="#22a884"/>
<circle cx="398.1" cy="183.8" r="2.3" fill="#9bd93c"/>
<circle cx="391.1" cy="186.1" r="2.3" fill="#2fb47c"/>
<circle cx="394.0" cy="186.7" r="2.3" fill="#5ec962"/>
<circle cx="390.5" cy="189.0" r="2.3" fill="#22a884"/>
<circle cx="395.2" cy="189.6" r="2.3" fill="#5ec962"/>
<circle cx="391.7" cy="192.5" r="2.3" fill="#6ece58"/>
<circle cx="390.5" cy="195.4" r="2.3" fill="#22a884"/>
<circle cx="391.1" cy="197.8" r="2.3" fill="#6ece58"/>
<circle cx="390.5" cy="203.0" r="2.3" fill="#b0dd2f"/>
<circle cx="391.7" cy="204.8" r="2.3" fill="#dfe318"/>
<circle cx="389.9" cy="208.9" r="2.3" fill="#25848e"/>
<circle cx="390.5" cy="212.4" r="2.3" fill="#1e9c89"/>
<circle cx="403.4" cy="176.8" r="2.3" fill="#25848e"/>
<circle cx="407.4" cy="183.8" r="2.3" fill="#38588c"/>
<circle cx="407.4" cy="189.6" r="2.3" fill="#463480"/>
<circle cx="403.4" cy="186.7" r="2.3" fill="#22a884"/>
<circle cx="402.8" cy="191.4" r="2.3" fill="#1e9c89"/>
<circle cx="403.9" cy="195.4" r="2.3" fill="#25848e"/>
<circle cx="401.6" cy="196.0" r="2.3" fill="#287d8e"/>
<circle cx="404.5" cy="198.4" r="2.3" fill="#22a884"/>
<circle cx="400.4" cy="200.1" r="2.3" fill="#25848e"/>
<circle cx="403.9" cy="203.0" r="2.3" fill="#9bd93c"/>
<circle cx="401.0" cy="205.9" r="2.3" fill="#25848e"/>
<circle cx="405.1" cy="208.3" r="2.3" fill="#dfe318"/>
<circle cx="402.2" cy="208.9" r="2.3" fill="#25848e"/>
<circle cx="396.9" cy="210.0" r="2.3" fill="#9bd93c"/>
<circle cx="397.5" cy="212.4" r="2.3" fill="#22a884"/>
<circle cx="403.4" cy="212.4" r="2.3" fill="#25848e"/>
<circle cx="407.4" cy="213.5" r="2.3" fill="#414487"/>
<circle cx="408.0" cy="207.1" r="2.3" fill="#3e4989"/>
<circle cx="410.9" cy="178.5" r="2.3" fill="#22a884"/>
<circle cx="414.5" cy="175.6" r="2.3" fill="#7ad151"/>
<circle cx="417.1" cy="179.1" r="2.3" fill="#b0dd2f"/>
<circle cx="419.7" cy="176.2" r="2.3" fill="#38588c"/>
<circle cx="424.4" cy="176.2" r="2.3" fill="#6ece58"/>
<circle cx="416.4" cy="183.8" r="2.3" fill="#b0dd2f"/>
<circle cx="420.3" cy="182.0" r="2.3" fill="#1e9c89"/>
<circle cx="423.2" cy="182.9" r="2.3" fill="#1e9c89"/>
<circle cx="425.0" cy="179.7" r="2.3" fill="#38588c"/>
<circle cx="428.5" cy="180.3" r="2.3" fill="#414487"/>
<circle cx="432.6" cy="180.8" r="2.3" fill="#443a83"/>
<circle cx="433.1" cy="176.8" r="2.3" fill="#22a884"/>
<circle cx="426.7" cy="186.7" r="2.3" fill="#1e9c89"/>
<circle cx="430.5" cy="186.7" r="2.3" fill="#dfe318"/>
<circle cx="429.6" cy="188.4" r="2.3" fill="#1e9c89"/>
<circle cx="422.0" cy="188.4" r="2.3" fill="#25848e"/>
<circle cx="415.0" cy="191.9" r="2.3" fill="#1e9c89"/>
<circle cx="417.4" cy="191.4" r="2.3" fill="#25848e"/>
<circle cx="419.1" cy="194.3" r="2.3" fill="#22a884"/>
<circle cx="413.9" cy="196.6" r="2.3" fill="#25848e"/>
<circle cx="419.7" cy="197.8" r="2.3" fill="#1e9c89"/>
<circle cx="420.9" cy="200.1" r="2.3" fill="#1e9c89"/>
<circle cx="409.2" cy="200.1" r="2.3" fill="#25848e"/>
<circle cx="412.7" cy="201.3" r="2.3" fill="#44bf70"/>
<circle cx="418.0" cy="203.6" r="2.3" fill="#414487"/>
<circle cx="421.5" cy="203.6" r="2.3" fill="#1e9c89"/>
<circle cx="415.6" cy="208.9" r="2.3" fill="#1e9c89"/>
<circle cx="421.5" cy="208.9" r="2.3" fill="#414487"/>
<circle cx="425.5" cy="207.9" r="2.3" fill="#471365"/>
<circle cx="420.3" cy="213.0" r="2.3" fill="#414487"/>
<circle cx="416.8" cy="214.1" r="2.3" fill="#dfe318"/>
<circle cx="428.5" cy="211.8" r="2.3" fill="#2a788e"/>
<circle cx="433.7" cy="203.6" r="2.3" fill="#22a884"/>
<circle cx="433.1" cy="206.5" r="2.3" fill="#414487"/>
<circle cx="436.6" cy="186.4" r="2.3" fill="#463480"/>
<circle cx="440.7" cy="182.2" r="2.3" fill="#44bf70"/>
<circle cx="441.9" cy="185.7" r="2.3" fill="#1e9c89"/>
<circle cx="436.6" cy="208.9" r="2.3" fill="#414487"/>
<circle cx="439.0" cy="210.0" r="2.3" fill="#414487"/>
<circle cx="441.9" cy="208.9" r="2.3" fill="#3e4989"/>
<circle cx="439.6" cy="213.5" r="2.3" fill="#3e4989"/>
<circle cx="448.9" cy="188.1" r="2.3" fill="#dfe318"/>
<circle cx="450.7" cy="183.2" r="2.3" fill="#dfe318"/>
<circle cx="450.1" cy="181.4" r="2.3" fill="#25848e"/>
<circle cx="454.5" cy="179.7" r="2.3" fill="#ece51b"/>
<circle cx="452.4" cy="176.2" r="2.3" fill="#5ec962"/>
<circle cx="457.7" cy="185.5" r="2.3" fill="#471365"/>
<circle cx="446.0" cy="198.4" r="2.3" fill="#25848e"/>
<circle cx="454.7" cy="199.0" r="2.3" fill="#1e9c89"/>
<circle cx="454.5" cy="203.6" r="2.3" fill="#25848e"/>
<circle cx="449.5" cy="209.5" r="2.3" fill="#287d8e"/>
<circle cx="452.4" cy="210.0" r="2.3" fill="#287d8e"/>
<circle cx="463.8" cy="175.6" r="2.3" fill="#21918c"/>
<circle cx="466.9" cy="179.1" r="2.3" fill="#3e4989"/>
<circle cx="457.9" cy="185.7" r="2.3" fill="#471365"/>
<circle cx="461.4" cy="185.5" r="2.3" fill="#1e9c89"/>
<circle cx="463.8" cy="184.6" r="2.3" fill="#1e9c89"/>
<circle cx="467.3" cy="183.4" r="2.3" fill="#21918c"/>
<circle cx="470.2" cy="186.7" r="2.3" fill="#21918c"/>
<circle cx="474.6" cy="179.9" r="2.3" fill="#1e9c89"/>
<circle cx="478.9" cy="184.1" r="2.3" fill="#20a386"/>
<circle cx="478.9" cy="186.1" r="2.3" fill="#20a386"/>
<circle cx="483.6" cy="178.5" r="2.3" fill="#38588c"/>
<circle cx="485.1" cy="190.8" r="2.3" fill="#20a386"/>
<circle cx="494.1" cy="176.8" r="2.3" fill="#bddf26"/>
<circle cx="498.8" cy="178.7" r="2.3" fill="#bddf26"/>
<circle cx="494.1" cy="190.8" r="2.3" fill="#44bf70"/>
<circle cx="500.3" cy="188.8" r="2.3" fill="#ece51b"/>
<circle cx="473.5" cy="194.6" r="2.3" fill="#ece51b"/>
<circle cx="468.8" cy="196.6" r="2.3" fill="#44bf70"/>
<circle cx="455.9" cy="198.9" r="2.3" fill="#25848e"/>
<circle cx="455.6" cy="203.6" r="2.3" fill="#25848e"/>
<circle cx="466.4" cy="204.8" r="2.3" fill="#1e9c89"/>
<circle cx="496.5" cy="207.9" r="2.3" fill="#ece51b"/>
<circle cx="389.9" cy="216.8" r="2.3" fill="#1e9c89"/>
<circle cx="389.3" cy="220.3" r="2.3" fill="#5ec962"/>
<circle cx="389.3" cy="226.7" r="2.3" fill="#25848e"/>
<circle cx="389.3" cy="232.5" r="2.3" fill="#22a884"/>
<circle cx="389.3" cy="243.0" r="2.3" fill="#1e9c89"/>
<circle cx="389.3" cy="250.0" r="2.3" fill="#1e9c89"/>
<circle cx="397.5" cy="215.6" r="2.3" fill="#dfe318"/>
<circle cx="396.4" cy="219.7" r="2.3" fill="#5ec962"/>
<circle cx="399.3" cy="219.1" r="2.3" fill="#b0dd2f"/>
<circle cx="398.1" cy="222.9" r="2.3" fill="#414487"/>
<circle cx="395.2" cy="224.9" r="2.3" fill="#dfe318"/>
<circle cx="401.6" cy="226.1" r="2.3" fill="#dfe318"/>
<circle cx="395.2" cy="229.0" r="2.3" fill="#1e9c89"/>
<circle cx="397.5" cy="231.4" r="2.3" fill="#1e9c89"/>
<circle cx="401.6" cy="230.2" r="2.3" fill="#44bf70"/>
<circle cx="403.9" cy="231.4" r="2.3" fill="#1e9c89"/>
<circle cx="394.6" cy="235.4" r="2.3" fill="#3e4989"/>
<circle cx="397.5" cy="236.6" r="2.3" fill="#414487"/>
<circle cx="395.2" cy="239.5" r="2.3" fill="#443a83"/>
<circle cx="398.7" cy="240.7" r="2.3" fill="#414487"/>
<circle cx="402.8" cy="237.8" r="2.3" fill="#414487"/>
<circle cx="402.8" cy="242.4" r="2.3" fill="#2a788e"/>
<circle cx="405.1" cy="238.4" r="2.3" fill="#414487"/>
<circle cx="408.0" cy="239.0" r="2.3" fill="#3e4989"/>
<circle cx="408.0" cy="241.3" r="2.3" fill="#3e4989"/>
<circle cx="395.2" cy="244.8" r="2.3" fill="#463480"/>
<circle cx="397.5" cy="246.0" r="2.3" fill="#414487"/>
<circle cx="400.4" cy="244.8" r="2.3" fill="#443a83"/>
<circle cx="402.8" cy="247.1" r="2.3" fill="#3e4989"/>
<circle cx="405.1" cy="246.0" r="2.3" fill="#414487"/>
<circle cx="398.1" cy="251.2" r="2.3" fill="#dfe318"/>
<circle cx="403.9" cy="253.5" r="2.3" fill="#3e4989"/>
<circle cx="406.3" cy="250.0" r="2.3" fill="#1e9c89"/>
<circle cx="409.8" cy="251.2" r="2.3" fill="#20a386"/>
<circle cx="403.4" cy="216.8" r="2.3" fill="#1e9c89"/>
<circle cx="405.1" cy="222.6" r="2.3" fill="#1e9c89"/>
<circle cx="406.3" cy="216.8" r="2.3" fill="#1e9c89"/>
<circle cx="408.0" cy="216.8" r="2.3" fill="#22a884"/>
<circle cx="408.0" cy="227.3" r="2.3" fill="#20a386"/>
<circle cx="410.4" cy="227.3" r="2.3" fill="#20a386"/>
<circle cx="409.8" cy="220.8" r="2.3" fill="#25848e"/>
<circle cx="413.9" cy="216.8" r="2.3" fill="#7ad151"/>
<circle cx="416.8" cy="215.6" r="2.3" fill="#b0dd2f"/>
<circle cx="414.5" cy="226.7" r="2.3" fill="#7ad151"/>
<circle cx="414.1" cy="221.8" r="2.3" fill="#481d6f"/>
<circle cx="413.6" cy="235.1" r="2.3" fill="#471365"/>
<circle cx="423.4" cy="224.1" r="2.3" fill="#20a386"/>
<circle cx="426.5" cy="216.8" r="2.3" fill="#481d6f"/>
<circle cx="434.9" cy="218.5" r="2.3" fill="#463480"/>
<circle cx="435.8" cy="221.4" r="2.3" fill="#463480"/>
<circle cx="431.4" cy="226.7" r="2.3" fill="#38588c"/>
<circle cx="440.7" cy="216.4" r="2.3" fill="#287d8e"/>
<circle cx="440.7" cy="220.3" r="2.3" fill="#3e4989"/>
<circle cx="446.0" cy="227.3" r="2.3" fill="#38588c"/>
<circle cx="443.6" cy="231.9" r="2.3" fill="#38588c"/>
<circle cx="439.8" cy="233.7" r="2.3" fill="#463480"/>
<circle cx="433.7" cy="237.8" r="2.3" fill="#443a83"/>
<circle cx="419.1" cy="242.1" r="2.3" fill="#443a83"/>
<circle cx="438.6" cy="245.1" r="2.3" fill="#3e4989"/>
<circle cx="418.8" cy="249.8" r="2.3" fill="#dfe318"/>
<circle cx="392.8" cy="257.3" r="2.3" fill="#1e9c89"/>
<circle cx="396.4" cy="256.2" r="2.3" fill="#38588c"/>
<circle cx="399.3" cy="255.6" r="2.3" fill="#3e4989"/>
<circle cx="396.9" cy="259.1" r="2.3" fill="#414487"/>
<circle cx="403.4" cy="256.2" r="2.3" fill="#3e4989"/>
<circle cx="404.5" cy="262.0" r="2.3" fill="#463480"/>
<circle cx="403.9" cy="260.3" r="2.3" fill="#414487"/>
<circle cx="401.0" cy="262.6" r="2.3" fill="#3e4989"/>
<circle cx="395.2" cy="263.8" r="2.3" fill="#3e4989"/>
<circle cx="396.9" cy="265.5" r="2.3" fill="#3e4989"/>
<circle cx="394.6" cy="269.0" r="2.3" fill="#3e4989"/>
<circle cx="397.5" cy="272.5" r="2.3" fill="#414487"/>
<circle cx="399.9" cy="272.5" r="2.3" fill="#3e4989"/>
<circle cx="404.8" cy="271.1" r="2.3" fill="#ece51b"/>
<circle cx="395.2" cy="278.4" r="2.3" fill="#3e4989"/>
<circle cx="396.9" cy="280.1" r="2.3" fill="#414487"/>
<circle cx="400.8" cy="279.3" r="2.3" fill="#38588c"/>
<circle cx="396.4" cy="284.8" r="2.3" fill="#463480"/>
<circle cx="398.7" cy="286.8" r="2.3" fill="#443a83"/>
<circle cx="391.7" cy="276.6" r="2.3" fill="#463480"/>
<circle cx="391.7" cy="283.0" r="2.3" fill="#38588c"/>
<circle cx="392.3" cy="261.4" r="2.3" fill="#21918c"/>
<circle cx="391.6" cy="287.0" r="2.3" fill="#38588c"/>
<circle cx="391.6" cy="289.0" r="2.3" fill="#38588c"/>
<circle cx="391.6" cy="294.5" r="2.3" fill="#463480"/>
<circle cx="391.6" cy="296.6" r="2.3" fill="#414487"/>
<circle cx="391.6" cy="302.6" r="2.3" fill="#482475"/>
<circle cx="391.6" cy="305.1" r="2.3" fill="#3e4989"/>
<circle cx="396.1" cy="285.5" r="2.3" fill="#463480"/>
<circle cx="399.1" cy="287.2" r="2.3" fill="#3e4989"/>
<circle cx="400.1" cy="301.3" r="2.3" fill="#3e4989"/>
<circle cx="401.8" cy="207.3" r="2.3" fill="#287d8e"/>
<circle cx="404.7" cy="208.4" r="2.3" fill="#b0dd2f"/>
<circle cx="398.4" cy="210.7" r="2.3" fill="#b0dd2f"/>
<circle cx="401.8" cy="211.9" r="2.3" fill="#1e9c89"/>
<circle cx="404.7" cy="211.9" r="2.3" fill="#414487"/>
<circle cx="408.2" cy="207.3" r="2.3" fill="#287d8e"/>
<circle cx="408.2" cy="213.6" r="2.3" fill="#414487"/>
<circle cx="397.2" cy="215.3" r="2.3" fill="#dfe318"/>
<circle cx="400.1" cy="218.2" r="2.3" fill="#dfe318"/>
<circle cx="403.6" cy="217.6" r="2.3" fill="#1e9c89"/>
<circle cx="405.9" cy="217.1" r="2.3" fill="#1e9c89"/>
<circle cx="397.2" cy="219.4" r="2.3" fill="#5ec962"/>
<circle cx="398.4" cy="222.8" r="2.3" fill="#414487"/>
<circle cx="403.6" cy="221.1" r="2.3" fill="#1e9c89"/>
<circle cx="406.4" cy="219.9" r="2.3" fill="#1e9c89"/>
<circle cx="409.3" cy="221.1" r="2.3" fill="#287d8e"/>
<circle cx="394.9" cy="225.1" r="2.3" fill="#b0dd2f"/>
<circle cx="401.3" cy="226.3" r="2.3" fill="#dfe318"/>
<circle cx="401.3" cy="228.6" r="2.3" fill="#5ec962"/>
<circle cx="396.1" cy="228.6" r="2.3" fill="#1e9c89"/>
<circle cx="404.1" cy="228.0" r="2.3" fill="#1e9c89"/>
<circle cx="407.6" cy="227.4" r="2.3" fill="#1e9c89"/>
<circle cx="409.9" cy="227.4" r="2.3" fill="#1e9c89"/>
<circle cx="396.1" cy="232.6" r="2.3" fill="#1e9c89"/>
<circle cx="399.0" cy="232.0" r="2.3" fill="#1e9c89"/>
<circle cx="404.1" cy="232.0" r="2.3" fill="#1e9c89"/>
<circle cx="395.5" cy="236.0" r="2.3" fill="#414487"/>
<circle cx="399.0" cy="235.5" r="2.3" fill="#287d8e"/>
<circle cx="403.0" cy="234.9" r="2.3" fill="#287d8e"/>
<circle cx="407.0" cy="236.6" r="2.3" fill="#414487"/>
<circle cx="397.2" cy="239.5" r="2.3" fill="#414487"/>
<circle cx="400.1" cy="239.5" r="2.3" fill="#414487"/>
<circle cx="404.1" cy="240.1" r="2.3" fill="#414487"/>
<circle cx="407.6" cy="239.5" r="2.3" fill="#287d8e"/>
<circle cx="396.1" cy="242.9" r="2.3" fill="#3e4989"/>
<circle cx="403.0" cy="242.9" r="2.3" fill="#1e9c89"/>
<circle cx="408.7" cy="242.9" r="2.3" fill="#287d8e"/>
<circle cx="389.8" cy="209.6" r="2.3" fill="#1e9c89"/>
<circle cx="390.3" cy="213.0" r="2.3" fill="#5ec962"/>
<circle cx="389.2" cy="220.0" r="2.3" fill="#1e9c89"/>
<circle cx="389.8" cy="225.7" r="2.3" fill="#1e9c89"/>
<circle cx="389.2" cy="229.1" r="2.3" fill="#414487"/>
<circle cx="389.2" cy="236.0" r="2.3" fill="#287d8e"/>
<circle cx="389.2" cy="242.9" r="2.3" fill="#1e9c89"/>
</g>
<polyline points="389.03,306.79 389.04,305.94 389.04,305.09 389.05,304.24 389.06,303.39 389.07,302.54 389.07,301.69 389.08,300.84 389.09,299.99 389.10,299.14 389.11,298.29 389.12,297.44 389.12,296.59 389.13,295.74 389.14,294.89 389.15,294.03 389.16,293.18 389.18,292.33 389.19,291.48 389.20,290.63 389.21,289.78 389.22,288.93 389.23,288.08 389.25,287.23 389.26,286.38 389.27,285.53 389.29,284.68 389.30,283.83 389.31,282.98 389.33,282.13 389.34,281.28 389.36,280.43 389.38,279.58 389.39,278.73 389.41,277.88 389.43,277.03 389.45,276.18 389.46,275.33 389.48,274.48 389.50,273.63 389.52,272.78 389.54,271.93 389.57,271.08 389.59,270.23 389.61,269.38 389.63,268.53 389.66,267.68 389.68,266.83 389.71,265.98 389.74,265.13 389.76,264.28 389.79,263.43 389.82,262.58 389.85,261.73 389.88,260.88 389.91,260.03 389.94,259.18 389.97,258.33 390.01,257.48 390.04,256.63 390.08,255.78 390.12,254.93 390.15,254.08 390.19,253.23 390.23,252.38 390.27,251.53 390.32,250.68 390.36,249.83 390.40,248.98 390.45,248.13 390.50,247.28 390.55,246.43 390.60,245.58 390.65,244.73 390.70,243.87 390.76,243.02 390.81,242.17 390.87,241.32 390.93,240.47 390.99,239.62 391.05,238.77 391.12,237.92 391.19,237.07 391.25,236.22 391.33,235.37 391.40,234.52 391.47,233.67 391.55,232.82 391.63,231.97 391.71,231.12 391.79,230.27 391.88,229.42 391.97,228.57 392.06,227.72 392.15,226.87 392.25,226.02 392.35,225.17 392.45,224.32 392.56,223.47 392.66,222.62 392.77,221.77 392.89,220.92 393.01,220.07 393.13,219.22 393.25,218.37 393.38,217.52 393.51,216.67 393.65,215.82 393.78,214.97 393.93,214.12 394.08,213.27 394.23,212.42 394.38,211.57 394.54,210.72 394.71,209.87 394.88,209.02 395.05,208.17 395.23,207.32 395.42,206.47 395.61,205.62 395.80,204.77 396.00,203.92 396.21,203.07 396.42,202.22 396.64,201.37 396.87,200.52 397.10,199.67 397.34,198.82 397.58,197.97 397.83,197.12 398.09,196.27 398.36,195.42 398.63,194.56 398.92,193.71 399.21,192.86 399.51,192.01 399.81,191.16 400.13,190.31 400.45,189.46 400.79,188.61 401.13,187.76 401.49,186.91 401.85,186.06 402.23,185.21 402.61,184.36 403.01,183.51 403.42,182.66 403.84,181.81 404.27,180.96 404.71,180.11 405.17,179.26 405.64,178.41 406.12,177.56 406.62,176.71 407.13,175.86 407.66,175.01 408.20,174.16 408.75,173.31 409.33,172.46 409.92,171.61 410.52,170.76 411.14,169.91 411.79,169.06 412.45,168.21 413.12,167.36 413.82,166.51 414.54,165.66 415.28,164.81 416.04,163.96 416.82,163.11 417.63,162.26 418.45,161.41 419.30,160.56 420.18,159.71 421.08,158.86 422.01,158.01 422.96,157.16 423.94,156.31 424.95,155.46 425.99,154.61 427.05,153.76 428.15,152.91 429.28,152.06 430.44,151.21 431.64,150.36 432.87,149.51 434.13,148.66 435.43,147.81 436.77,146.96 438.15,146.11 439.56,145.26 441.02,144.40 442.52,143.55 444.06,142.70 445.65,141.85 447.28,141.00 448.96,140.15 450.68,139.30 452.46,138.45 454.29,137.60 456.17,136.75 458.10,135.90 460.09,135.05 462.13,134.20 464.24,133.35 466.40,132.50 468.63,131.65 470.92,130.80 473.28,129.95 475.70,129.10 478.20,128.25 480.76,127.40 483.40,126.55 486.11,125.70 488.91,124.85 491.78,124.00 494.74,123.15 497.78,122.30 500.90,121.45 504.12,120.60 507.43,119.75 510.83,118.90 514.34,118.05 517.94,117.20 521.64,116.35 525.46,115.50 529.38,114.65 533.41,113.80 537.56,112.95 541.83,112.10 546.22,111.25 550.74,110.40 555.39,109.55 560.17,108.70 565.08,107.85 570.14,107.00 575.35,106.15 580.70,105.30 586.21,104.45 591.87,103.60 597.70,102.75" fill="none" stroke="#ffff00" stroke-width="3.7" stroke-linecap="square" stroke-linejoin="round" clip-path="url(#cr)"/>
<rect x="32.8" y="14.9" width="230.6" height="305.3" fill="none" stroke="#a6a6a6" stroke-width="1.1"/>
<rect x="378.5" y="14.9" width="230.0" height="305.3" fill="none" stroke="#a6a6a6" stroke-width="1.1"/>
<line x1="31.0" y1="295.3" x2="32.8" y2="295.3" stroke="#888" stroke-width="0.8"/>
<line x1="376.7" y1="295.3" x2="378.5" y2="295.3" stroke="#888" stroke-width="0.8"/>
<text x="13.96" y="301.02" font-size="13.93" textLength="16.21" lengthAdjust="spacingAndGlyphs">29</text>
<text x="359.66" y="301.02" font-size="13.93" textLength="16.21" lengthAdjust="spacingAndGlyphs">29</text>
<line x1="31.0" y1="253.7" x2="32.8" y2="253.7" stroke="#888" stroke-width="0.8"/>
<line x1="376.7" y1="253.7" x2="378.5" y2="253.7" stroke="#888" stroke-width="0.8"/>
<text x="14.18" y="259.35" font-size="13.93" textLength="15.91" lengthAdjust="spacingAndGlyphs">30</text>
<text x="359.88" y="259.35" font-size="13.93" textLength="15.91" lengthAdjust="spacingAndGlyphs">30</text>
<line x1="31.0" y1="212.0" x2="32.8" y2="212.0" stroke="#888" stroke-width="0.8"/>
<line x1="376.7" y1="212.0" x2="378.5" y2="212.0" stroke="#888" stroke-width="0.8"/>
<text x="14.19" y="217.68" font-size="13.93" textLength="15.69" lengthAdjust="spacingAndGlyphs">31</text>
<text x="359.89" y="217.68" font-size="13.93" textLength="15.69" lengthAdjust="spacingAndGlyphs">31</text>
<line x1="31.0" y1="170.3" x2="32.8" y2="170.3" stroke="#888" stroke-width="0.8"/>
<line x1="376.7" y1="170.3" x2="378.5" y2="170.3" stroke="#888" stroke-width="0.8"/>
<text x="14.19" y="176.01" font-size="13.93" textLength="15.60" lengthAdjust="spacingAndGlyphs">32</text>
<text x="359.89" y="176.01" font-size="13.93" textLength="15.60" lengthAdjust="spacingAndGlyphs">32</text>
<line x1="31.0" y1="128.6" x2="32.8" y2="128.6" stroke="#888" stroke-width="0.8"/>
<line x1="376.7" y1="128.6" x2="378.5" y2="128.6" stroke="#888" stroke-width="0.8"/>
<text x="14.19" y="134.34" font-size="13.93" textLength="15.79" lengthAdjust="spacingAndGlyphs">33</text>
<text x="359.89" y="134.34" font-size="13.93" textLength="15.79" lengthAdjust="spacingAndGlyphs">33</text>
<line x1="31.0" y1="87.0" x2="32.8" y2="87.0" stroke="#888" stroke-width="0.8"/>
<line x1="376.7" y1="87.0" x2="378.5" y2="87.0" stroke="#888" stroke-width="0.8"/>
<text x="14.18" y="92.67" font-size="13.93" textLength="15.90" lengthAdjust="spacingAndGlyphs">34</text>
<text x="359.88" y="92.67" font-size="13.93" textLength="15.90" lengthAdjust="spacingAndGlyphs">34</text>
<line x1="31.0" y1="45.3" x2="32.8" y2="45.3" stroke="#888" stroke-width="0.8"/>
<line x1="376.7" y1="45.3" x2="378.5" y2="45.3" stroke="#888" stroke-width="0.8"/>
<text x="14.19" y="51.00" font-size="13.93" textLength="15.66" lengthAdjust="spacingAndGlyphs">35</text>
<text x="359.89" y="51.00" font-size="13.93" textLength="15.66" lengthAdjust="spacingAndGlyphs">35</text>
<line x1="73.3" y1="320.2" x2="73.3" y2="322" stroke="#888" stroke-width="0.8"/>
<text x="56.95" y="332.60" font-size="13.93" textLength="32.74" lengthAdjust="spacingAndGlyphs">1990</text>
<line x1="133.0" y1="320.2" x2="133.0" y2="322" stroke="#888" stroke-width="0.8"/>
<text x="116.58" y="332.60" font-size="13.93" textLength="32.84" lengthAdjust="spacingAndGlyphs">2000</text>
<line x1="192.8" y1="320.2" x2="192.8" y2="322" stroke="#888" stroke-width="0.8"/>
<text x="176.31" y="332.60" font-size="13.93" textLength="32.84" lengthAdjust="spacingAndGlyphs">2010</text>
<line x1="252.5" y1="320.2" x2="252.5" y2="322" stroke="#888" stroke-width="0.8"/>
<text x="236.04" y="332.60" font-size="13.93" textLength="32.84" lengthAdjust="spacingAndGlyphs">2020</text>
<line x1="388.4" y1="320.2" x2="388.4" y2="322" stroke="#888" stroke-width="0.8"/>
<text x="384.56" y="332.60" font-size="13.93" textLength="7.68" lengthAdjust="spacingAndGlyphs">0</text>
<line x1="441.3" y1="320.2" x2="441.3" y2="322" stroke="#888" stroke-width="0.8"/>
<text x="433.26" y="332.60" font-size="13.93" textLength="15.89" lengthAdjust="spacingAndGlyphs">25</text>
<line x1="494.3" y1="320.2" x2="494.3" y2="322" stroke="#888" stroke-width="0.8"/>
<text x="486.40" y="332.60" font-size="13.93" textLength="15.93" lengthAdjust="spacingAndGlyphs">50</text>
<line x1="547.2" y1="320.2" x2="547.2" y2="322" stroke="#888" stroke-width="0.8"/>
<text x="539.27" y="332.60" font-size="13.88" textLength="15.77" lengthAdjust="spacingAndGlyphs">75</text>
<line x1="600.2" y1="320.2" x2="600.2" y2="322" stroke="#888" stroke-width="0.8"/>
<text x="588.03" y="332.60" font-size="13.93" textLength="24.38" lengthAdjust="spacingAndGlyphs">100</text>
<text x="134.00" y="346.60" font-size="13.88" textLength="28.30" lengthAdjust="spacingAndGlyphs">Year</text>
<text x="435.52" y="346.80" font-size="13.73" textLength="115.73" lengthAdjust="spacingAndGlyphs">Deforestation&#160;[%]</text>
<g transform="translate(9.60,197.00) rotate(-90)"><text x="-0.35" y="0.00" font-size="13.88" textLength="8.72" lengthAdjust="spacingAndGlyphs">T</text><text x="8.44" y="2.60" font-size="9.54" textLength="19.61" lengthAdjust="spacingAndGlyphs" font-style="italic">max</text><text x="28.52" y="0.00" font-size="13.73" textLength="30.12" lengthAdjust="spacingAndGlyphs">&#160;[°C]</text></g>
<g transform="translate(355.30,197.00) rotate(-90)"><text x="-0.35" y="0.00" font-size="13.88" textLength="8.72" lengthAdjust="spacingAndGlyphs">T</text><text x="8.44" y="2.60" font-size="9.54" textLength="19.61" lengthAdjust="spacingAndGlyphs" font-style="italic">max</text><text x="28.52" y="0.00" font-size="13.73" textLength="30.12" lengthAdjust="spacingAndGlyphs">&#160;[°C]</text></g>
<text x="140.19" y="11.90" font-size="16.65" textLength="8.12" lengthAdjust="spacingAndGlyphs">a</text>
<text x="486.00" y="11.90" font-size="16.77" textLength="9.41" lengthAdjust="spacingAndGlyphs">b</text>
<text x="151.00" y="10.6" font-size="15.3" textLength="4.30" lengthAdjust="spacingAndGlyphs">)</text>
<text x="497.00" y="10.6" font-size="15.3" textLength="4.20" lengthAdjust="spacingAndGlyphs">)</text>
<text x="44.07" y="38.80" font-size="12.19" textLength="7.66" lengthAdjust="spacingAndGlyphs" font-style="italic">R</text>
<text x="51.76" y="38.80" font-size="12.22" textLength="41.92" lengthAdjust="spacingAndGlyphs">&#160;=&#160;0.47</text>
<text x="43.72" y="51.30" font-size="12.22" textLength="49.45" lengthAdjust="spacingAndGlyphs">p&#160;&lt;&#160;0.05</text>
<text x="389.77" y="38.80" font-size="12.19" textLength="7.66" lengthAdjust="spacingAndGlyphs" font-style="italic">R</text>
<text x="397.42" y="38.80" font-size="12.22" textLength="42.28" lengthAdjust="spacingAndGlyphs">&#160;=&#160;0.63</text>
<text x="389.42" y="51.30" font-size="12.22" textLength="49.45" lengthAdjust="spacingAndGlyphs">p&#160;&lt;&#160;0.05</text>
<rect x="152.5" y="271.7" width="103.8" height="41.7" rx="1.8" fill="#fff" fill-opacity="0.8" stroke="#e4e4e4" stroke-width="1"/><circle cx="170.2" cy="283.3" r="2.3" fill="#000"/><line x1="155.7" y1="301.3" x2="184.7" y2="301.3" stroke="#ffff00" stroke-width="3.7"/><text x="193.22" y="286.80" font-size="13.88" textLength="29.97" lengthAdjust="spacingAndGlyphs">Data</text><text x="193.14" y="306.00" font-size="13.73" textLength="58.01" lengthAdjust="spacingAndGlyphs">Linear&#160;fit</text>
<rect x="514.5" y="271.7" width="88.0" height="41.6" rx="1.8" fill="#fff" fill-opacity="0.8" stroke="#e4e4e4" stroke-width="1"/><circle cx="533.2" cy="283.3" r="2.3" fill="#440154"/><line x1="518.1" y1="301.3" x2="547.6" y2="301.3" stroke="#ffff00" stroke-width="3.7"/><text x="556.22" y="286.80" font-size="13.88" textLength="29.97" lengthAdjust="spacingAndGlyphs">Data</text><text x="556.16" y="306.00" font-size="13.73" textLength="40.68" lengthAdjust="spacingAndGlyphs">Log&#160;fit</text>
<rect x="277.1" y="14.9" width="15.7" height="305.6" fill="url(#gc)"/>
<rect x="277.1" y="14.9" width="15.7" height="305.6" fill="none" stroke="#aaa" stroke-width="0.8"/>
<line x1="292.5" y1="287.8" x2="294.3" y2="287.8" stroke="#888" stroke-width="0.8"/>
<text x="295.25" y="293.20" font-size="13.93" textLength="16.02" lengthAdjust="spacingAndGlyphs">10</text>
<line x1="292.5" y1="252.4" x2="294.3" y2="252.4" stroke="#888" stroke-width="0.8"/>
<text x="295.13" y="257.83" font-size="13.93" textLength="16.14" lengthAdjust="spacingAndGlyphs">20</text>
<line x1="292.5" y1="217.1" x2="294.3" y2="217.1" stroke="#888" stroke-width="0.8"/>
<text x="295.35" y="222.46" font-size="13.93" textLength="15.91" lengthAdjust="spacingAndGlyphs">30</text>
<line x1="292.5" y1="181.7" x2="294.3" y2="181.7" stroke="#888" stroke-width="0.8"/>
<text x="295.21" y="187.09" font-size="13.93" textLength="16.06" lengthAdjust="spacingAndGlyphs">40</text>
<line x1="292.5" y1="146.3" x2="294.3" y2="146.3" stroke="#888" stroke-width="0.8"/>
<text x="295.34" y="151.72" font-size="13.93" textLength="15.93" lengthAdjust="spacingAndGlyphs">50</text>
<line x1="292.5" y1="110.9" x2="294.3" y2="110.9" stroke="#888" stroke-width="0.8"/>
<text x="295.07" y="116.34" font-size="13.93" textLength="16.20" lengthAdjust="spacingAndGlyphs">60</text>
<line x1="292.5" y1="75.6" x2="294.3" y2="75.6" stroke="#888" stroke-width="0.8"/>
<text x="295.24" y="80.97" font-size="13.93" textLength="16.03" lengthAdjust="spacingAndGlyphs">70</text>
<line x1="292.5" y1="40.2" x2="294.3" y2="40.2" stroke="#888" stroke-width="0.8"/>
<text x="295.17" y="45.60" font-size="13.93" textLength="16.10" lengthAdjust="spacingAndGlyphs">80</text>
<g transform="translate(323.6,166.9) rotate(-90)"><text x="-57.88" y="0.00" font-size="13.73" textLength="115.73" lengthAdjust="spacingAndGlyphs">Deforestation&#160;[%]</text></g>
<rect x="622.9" y="14.9" width="15.7" height="305.6" fill="url(#gv)"/>
<rect x="622.9" y="14.9" width="15.7" height="305.6" fill="none" stroke="#aaa" stroke-width="0.8"/>
<line x1="638.4" y1="320.5" x2="640.2" y2="320.5" stroke="#888" stroke-width="0.8"/>
<text x="640.13" y="325.50" font-size="13.93" textLength="32.49" lengthAdjust="spacingAndGlyphs">1985</text>
<line x1="638.4" y1="276.9" x2="640.2" y2="276.9" stroke="#888" stroke-width="0.8"/>
<text x="640.12" y="281.87" font-size="13.93" textLength="32.74" lengthAdjust="spacingAndGlyphs">1990</text>
<line x1="638.4" y1="233.2" x2="640.2" y2="233.2" stroke="#888" stroke-width="0.8"/>
<text x="640.13" y="238.24" font-size="13.93" textLength="32.49" lengthAdjust="spacingAndGlyphs">1995</text>
<line x1="638.4" y1="189.6" x2="640.2" y2="189.6" stroke="#888" stroke-width="0.8"/>
<text x="640.02" y="194.61" font-size="13.93" textLength="32.84" lengthAdjust="spacingAndGlyphs">2000</text>
<line x1="638.4" y1="146.0" x2="640.2" y2="146.0" stroke="#888" stroke-width="0.8"/>
<text x="640.02" y="150.98" font-size="13.93" textLength="32.60" lengthAdjust="spacingAndGlyphs">2005</text>
<line x1="638.4" y1="102.3" x2="640.2" y2="102.3" stroke="#888" stroke-width="0.8"/>
<text x="640.02" y="107.35" font-size="13.93" textLength="32.84" lengthAdjust="spacingAndGlyphs">2010</text>
<line x1="638.4" y1="58.7" x2="640.2" y2="58.7" stroke="#888" stroke-width="0.8"/>
<text x="640.02" y="63.72" font-size="13.93" textLength="32.60" lengthAdjust="spacingAndGlyphs">2015</text>
<line x1="638.4" y1="15.1" x2="640.2" y2="15.1" stroke="#888" stroke-width="0.8"/>
<text x="640.02" y="20.09" font-size="13.93" textLength="32.84" lengthAdjust="spacingAndGlyphs">2020</text>
<g transform="translate(685.6,167.2) rotate(-90)"><text x="-14.20" y="0.00" font-size="13.88" textLength="28.30" lengthAdjust="spacingAndGlyphs">Year</text></g>
</svg></body></html>
